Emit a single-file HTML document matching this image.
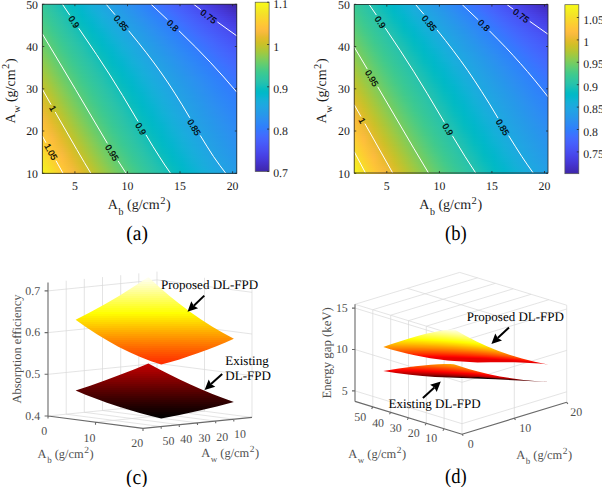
<!DOCTYPE html><html><head><meta charset="utf-8"><style>
body{margin:0;background:#fff;width:602px;height:487px;overflow:hidden;position:relative}
div i{position:absolute;left:0;width:100%;height:2px;display:block}
.sf{position:absolute}
svg{position:absolute;left:0;top:0}
text{font-family:"Liberation Serif",serif;fill:#1a1a1a;text-rendering:geometricPrecision}
.tk{font-size:11.8px}
.cl{font-family:"Liberation Sans",sans-serif;font-size:8.9px;text-anchor:middle;fill:#000;stroke:#000;stroke-width:0.2}
.al{font-size:14px}
.cap{font-size:21px;fill:#000}
.t3{font-size:11.9px;fill:#505050}
.an{font-size:13px;fill:#000}
.al3{font-size:12.4px;fill:#505050}
.yl3{fill:#505050}
</style></head><body>
<div style="position:absolute;left:42px;top:4px;width:195px;height:170px">
<i style="top:0px;background:linear-gradient(90deg,#35c79a 0px,#29c3aa 10px,#14bfb8 20px,#01bac5 30px,#08b5d0 40px,#17aeda 50px,#1ea7e1 60px,#249fe5 70px,#2796eb 80px,#2d8ef2 90px,#2e84f8 100px,#347afd 110px,#3f6fff 120px,#4564fd 130px,#4759f9 140px,#484ff2 150px,#4744e8 160px,#463adb 170px,#4331c8 180px,#4029b3 190px,#3e26a9 195px)"></i>
<i style="top:2px;background:linear-gradient(90deg,#36c898 0px,#2bc3a8 10px,#18bfb6 20px,#02bbc3 30px,#05b5cf 40px,#16afd9 50px,#1da8e0 60px,#23a0e5 70px,#2698ea 80px,#2c8ff0 90px,#2e86f7 100px,#327cfc 110px,#3c71ff 120px,#4466fd 130px,#475cfa 140px,#4851f4 150px,#4747eb 160px,#463cdf 170px,#4434ce 180px,#412cba 190px,#3f29b0 195px)"></i>
<i style="top:4px;background:linear-gradient(90deg,#38c896 0px,#2dc4a6 10px,#1bc0b4 20px,#04bbc1 30px,#03b6cd 40px,#14b0d7 50px,#1ca9df 60px,#22a2e4 70px,#2699e9 80px,#2b91ef 90px,#2d88f6 100px,#307efb 110px,#3a74ff 120px,#4369fe 130px,#465efb 140px,#4854f5 150px,#484aee 160px,#473fe3 170px,#4536d4 180px,#422fc0 190px,#402bb7 195px)"></i>
<i style="top:6px;background:linear-gradient(90deg,#3ac994 0px,#2ec4a4 10px,#1ec0b2 20px,#06bcbf 30px,#02b7cb 40px,#11b1d6 50px,#1baade 60px,#21a3e3 70px,#259be8 80px,#2a93ee 90px,#2d8af5 100px,#2f80fa 110px,#3876fe 120px,#416bfe 130px,#4661fc 140px,#4757f7 150px,#484df0 160px,#4742e6 170px,#4639d9 180px,#4331c6 190px,#412ebe 195px)"></i>
<i style="top:8px;background:linear-gradient(90deg,#3cc991 0px,#30c5a2 10px,#21c1b1 20px,#09bdbe 30px,#01b8ca 40px,#0fb2d4 50px,#1aacdd 60px,#20a4e3 70px,#259ce7 80px,#2994ed 90px,#2d8cf3 100px,#2f82f9 110px,#3578fd 120px,#406efe 130px,#4563fd 140px,#4759f8 150px,#484ff2 160px,#4745e9 170px,#463bdd 180px,#4433cd 190px,#4230c4 195px)"></i>
<i style="top:10px;background:linear-gradient(90deg,#3eca8f 0px,#31c6a0 10px,#23c1af 20px,#0cbdbc 30px,#00b8c8 40px,#0cb3d3 50px,#19addc 60px,#1fa5e2 70px,#249ee6 80px,#2896ec 90px,#2d8df2 100px,#2e84f8 110px,#337bfd 120px,#3e70ff 130px,#4466fd 140px,#475cfa 150px,#4852f4 160px,#4848ec 170px,#473ee1 180px,#4535d2 190px,#4332ca 195px)"></i>
<i style="top:12px;background:linear-gradient(90deg,#41ca8c 0px,#32c69e 10px,#26c2ad 20px,#10beba 30px,#00b9c6 40px,#0ab4d1 50px,#18aedb 60px,#1ea7e1 70px,#249fe5 80px,#2797ea 90px,#2c8ff1 100px,#2e86f7 110px,#317dfc 120px,#3b72ff 130px,#4368fe 140px,#465efb 150px,#4854f6 160px,#484bee 170px,#4741e5 180px,#4538d8 190px,#4434d0 195px)"></i>
<i style="top:14px;background:linear-gradient(90deg,#43cb8a 0px,#34c79c 10px,#28c2ab 20px,#13beb9 30px,#01bac5 40px,#07b5d0 50px,#16afd9 60px,#1da8e0 70px,#23a0e5 80px,#2699e9 90px,#2c91ef 100px,#2d88f6 110px,#307ffb 120px,#3974ff 130px,#426afe 140px,#4660fc 150px,#4757f7 160px,#484df0 170px,#4744e8 180px,#463adc 190px,#4537d5 195px)"></i>
<i style="top:16px;background:linear-gradient(90deg,#46cb88 0px,#35c79a 10px,#2ac3a9 20px,#16bfb7 30px,#02bbc3 40px,#05b6ce 50px,#14b0d8 60px,#1ca9df 70px,#22a2e4 80px,#269ae8 90px,#2b92ee 100px,#2d8af5 110px,#2f81fa 120px,#3777fe 130px,#406cfe 140px,#4563fc 150px,#4759f8 160px,#4850f2 170px,#4746ea 180px,#463de0 190px,#4639da 195px)"></i>
<i style="top:18px;background:linear-gradient(90deg,#49cb85 0px,#37c898 10px,#2bc3a8 20px,#19bfb5 30px,#03bbc1 40px,#03b6cd 50px,#12b1d7 60px,#1baade 70px,#21a3e3 80px,#259be7 90px,#2994ed 100px,#2d8bf4 110px,#2e83f9 120px,#3579fd 130px,#3f6fff 140px,#4465fd 150px,#475bfa 160px,#4852f4 170px,#4849ed 180px,#4740e3 190px,#463cde 195px)"></i>
<i style="top:20px;background:linear-gradient(90deg,#4ccc82 0px,#38c896 10px,#2dc4a6 20px,#1cc0b3 30px,#05bcc0 40px,#02b7cb 50px,#10b2d5 60px,#1aabdd 70px,#20a4e3 80px,#259de7 90px,#2895ec 100px,#2d8df2 110px,#2e84f8 120px,#337bfc 130px,#3d71ff 140px,#4367fd 150px,#465efb 160px,#4855f6 170px,#484bef 180px,#4742e7 190px,#473ee2 195px)"></i>
<i style="top:22px;background:linear-gradient(90deg,#50cc80 0px,#3ac993 10px,#2ec5a4 20px,#1fc0b2 30px,#08bcbe 40px,#01b8ca 50px,#0eb3d4 60px,#19acdc 70px,#1fa6e2 80px,#249ee6 90px,#2797eb 100px,#2d8ef1 110px,#2e86f7 120px,#317dfc 130px,#3b73ff 140px,#4269fe 150px,#4660fc 160px,#4757f7 170px,#484ef1 180px,#4745e9 190px,#4741e5 195px)"></i>
<i style="top:24px;background:linear-gradient(90deg,#53cc7d 0px,#3cc991 10px,#30c5a2 20px,#22c1b0 30px,#0bbdbc 40px,#00b9c8 50px,#0bb3d2 60px,#18addb 70px,#1ea7e1 80px,#249fe5 90px,#2698ea 100px,#2c90f0 110px,#2d88f6 120px,#307ffb 130px,#3875fe 140px,#416bfe 150px,#4562fc 160px,#4759f8 170px,#4850f3 180px,#4848ec 190px,#4744e8 195px)"></i>
<i style="top:26px;background:linear-gradient(90deg,#56cc7b 0px,#3eca8f 10px,#31c6a0 20px,#24c1ae 30px,#0fbebb 40px,#00b9c6 50px,#09b4d1 60px,#17aeda 70px,#1da8e1 80px,#23a1e5 90px,#2699e9 100px,#2b92ef 110px,#2d89f5 120px,#2f81fa 130px,#3677fe 140px,#3f6efe 150px,#4464fd 160px,#475bfa 170px,#4853f4 180px,#484aee 190px,#4746ea 195px)"></i>
<i style="top:28px;background:linear-gradient(90deg,#5acc78 0px,#41ca8c 10px,#32c69e 20px,#26c2ac 30px,#12beb9 40px,#01bac5 50px,#06b5cf 60px,#15afd9 70px,#1da9e0 80px,#22a2e4 90px,#259be8 100px,#2a93ee 110px,#2d8bf4 120px,#2e82f9 130px,#3479fd 140px,#3e70ff 150px,#4466fd 160px,#465dfb 170px,#4855f6 180px,#484cf0 190px,#4849ed 195px)"></i>
<i style="top:30px;background:linear-gradient(90deg,#5dcd75 0px,#43cb8a 10px,#34c79c 20px,#28c3ab 30px,#15bfb7 40px,#02bbc3 50px,#04b6ce 60px,#13b0d7 70px,#1caadf 80px,#21a3e3 90px,#259ce7 100px,#2994ed 110px,#2d8cf3 120px,#2e84f8 130px,#327bfc 140px,#3c72ff 150px,#4368fe 160px,#4660fb 170px,#4757f7 180px,#484ff2 190px,#484bef 195px)"></i>
<i style="top:32px;background:linear-gradient(90deg,#60cd72 0px,#46cb87 10px,#35c79a 20px,#2ac3a9 30px,#18bfb6 40px,#03bbc2 50px,#03b7cc 60px,#11b1d6 70px,#1babde 80px,#20a4e3 90px,#259de6 100px,#2896ec 110px,#2d8ef1 120px,#2e86f8 130px,#317dfc 140px,#3a74ff 150px,#426bfe 160px,#4562fc 170px,#4759f9 180px,#4851f3 190px,#484df1 195px)"></i>
<i style="top:34px;background:linear-gradient(90deg,#64cd6f 0px,#49cb85 10px,#37c898 20px,#2cc4a7 30px,#1bc0b4 40px,#05bcc0 50px,#01b7cb 60px,#0fb2d5 70px,#1aacdd 80px,#1fa5e2 90px,#249ee6 100px,#2797eb 110px,#2c8ff0 120px,#2d87f7 130px,#307ffb 140px,#3876fe 150px,#406dfe 160px,#4564fd 170px,#475bfa 180px,#4853f5 190px,#4850f2 195px)"></i>
<i style="top:36px;background:linear-gradient(90deg,#67cd6c 0px,#4dcc82 10px,#38c896 20px,#2dc4a5 30px,#1ec0b2 40px,#07bcbe 50px,#01b8c9 60px,#0db3d3 70px,#19addc 80px,#1ea6e1 90px,#249fe5 100px,#2698ea 110px,#2b91ef 120px,#2d89f5 130px,#2f81fa 140px,#3678fe 150px,#3f6eff 160px,#4466fd 170px,#465dfb 180px,#4855f6 190px,#4852f4 195px)"></i>
<i style="top:38px;background:linear-gradient(90deg,#6bcd69 0px,#50cc80 10px,#3ac993 20px,#2fc5a4 30px,#21c1b1 40px,#0abdbd 50px,#00b9c8 60px,#0bb4d2 70px,#17aeda 80px,#1ea8e1 90px,#23a1e5 100px,#269ae9 110px,#2b92ee 120px,#2d8af4 130px,#2f82f9 140px,#347afd 150px,#3d70ff 160px,#4368fe 170px,#465ffb 180px,#4757f7 190px,#4854f5 195px)"></i>
<i style="top:40px;background:linear-gradient(90deg,#6fcd66 0px,#53cc7d 10px,#3cc991 20px,#30c5a2 30px,#23c1af 40px,#0ebdbb 50px,#00b9c6 60px,#08b4d1 70px,#16afd9 80px,#1da9e0 90px,#22a2e4 100px,#259be8 110px,#2993ed 120px,#2d8cf3 130px,#2e84f9 140px,#327bfc 150px,#3b72ff 160px,#426afe 170px,#4561fc 180px,#4759f9 190px,#4756f7 195px)"></i>
<i style="top:42px;background:linear-gradient(90deg,#73cd63 0px,#56cc7a 10px,#3eca8f 20px,#31c6a0 30px,#25c2ad 40px,#11beba 50px,#01bac5 60px,#06b5cf 70px,#15b0d8 80px,#1caadf 90px,#21a3e3 100px,#259ce7 110px,#2995ec 120px,#2d8df2 130px,#2e85f8 140px,#317dfc 150px,#3974ff 160px,#416bfe 170px,#4563fd 180px,#475bfa 190px,#4758f8 195px)"></i>
<i style="top:44px;background:linear-gradient(90deg,#77cc60 0px,#5acc78 10px,#40ca8d 20px,#32c69e 30px,#27c2ac 40px,#14beb8 50px,#02bac3 60px,#04b6ce 70px,#13b1d7 80px,#1babde 90px,#20a4e3 100px,#259de6 110px,#2896eb 120px,#2c8ff1 130px,#2e87f7 140px,#307ffb 150px,#3876fe 160px,#406dfe 170px,#4465fd 180px,#465dfb 190px,#475af9 195px)"></i>
<i style="top:46px;background:linear-gradient(90deg,#7bcc5d 0px,#5dcd75 10px,#43cb8a 20px,#34c79c 30px,#29c3aa 40px,#17bfb7 50px,#03bbc2 60px,#03b7cc 70px,#11b1d6 80px,#1aacdd 90px,#20a5e2 100px,#249ee6 110px,#2797eb 120px,#2c90f0 130px,#2d88f6 140px,#2f80fa 150px,#3678fe 160px,#3e6fff 170px,#4367fd 180px,#465ffb 190px,#475cfa 195px)"></i>
<i style="top:48px;background:linear-gradient(90deg,#7fcc5a 0px,#60cd72 10px,#46cb88 20px,#35c79a 30px,#2bc3a8 40px,#1abfb5 50px,#05bcc0 60px,#01b7cb 70px,#0fb2d4 80px,#19acdc 90px,#1fa6e2 100px,#249fe5 110px,#2698ea 120px,#2b91ef 130px,#2d8af5 140px,#2f82fa 150px,#347afd 160px,#3d71ff 170px,#4369fe 180px,#4661fc 190px,#465efb 195px)"></i>
<i style="top:50px;background:linear-gradient(90deg,#83cc57 0px,#64cd6f 10px,#49cb85 20px,#37c898 30px,#2cc4a7 40px,#1cc0b3 50px,#07bcbf 60px,#01b8ca 70px,#0db3d3 80px,#18addb 90px,#1ea7e1 100px,#23a0e5 110px,#2699e9 120px,#2a92ee 130px,#2d8bf4 140px,#2e83f9 150px,#327bfc 160px,#3b73ff 170px,#426afe 180px,#4563fc 190px,#465ffb 195px)"></i>
<i style="top:52px;background:linear-gradient(90deg,#87cb54 0px,#67cd6c 10px,#4ccb83 20px,#38c896 30px,#2ec4a5 40px,#1fc0b2 50px,#09bdbd 60px,#00b8c8 70px,#0ab4d2 80px,#17aeda 90px,#1da8e0 100px,#22a1e4 110px,#259be8 120px,#2994ed 130px,#2d8cf3 140px,#2e85f8 150px,#317dfc 160px,#3974ff 170px,#416cfe 180px,#4464fd 190px,#4561fc 195px)"></i>
<i style="top:54px;background:linear-gradient(90deg,#8ccb51 0px,#6bcd69 10px,#4fcc80 20px,#3ac994 30px,#2fc5a3 40px,#22c1b0 50px,#0cbdbc 60px,#00b9c7 70px,#08b4d1 80px,#16afd9 90px,#1da9e0 100px,#22a2e4 110px,#259ce7 120px,#2995ec 130px,#2d8df2 140px,#2e86f7 150px,#307efb 160px,#3876fe 170px,#3f6eff 180px,#4466fd 190px,#4563fc 195px)"></i>
<i style="top:56px;background:linear-gradient(90deg,#90ca4d 0px,#6fcd66 10px,#52cc7e 20px,#3cc991 30px,#30c5a1 40px,#24c1af 50px,#0fbeba 60px,#01bac5 70px,#06b5cf 80px,#14b0d8 90px,#1caadf 100px,#21a3e3 110px,#259de7 120px,#2896ec 130px,#2c8ff1 140px,#2d87f7 150px,#2f80fb 160px,#3678fe 170px,#3e6fff 180px,#4368fe 190px,#4464fd 195px)"></i>
<i style="top:58px;background:linear-gradient(90deg,#94ca4a 0px,#73cd63 10px,#55cc7b 20px,#3eca8f 30px,#31c6a0 40px,#26c2ad 50px,#12beb9 60px,#01bac4 70px,#04b6ce 80px,#13b1d7 90px,#1babde 100px,#20a4e3 110px,#249ee6 120px,#2797eb 130px,#2c90f0 140px,#2d89f6 150px,#2f81fa 160px,#3479fd 170px,#3d71ff 180px,#4269fe 190px,#4466fd 195px)"></i>
<i style="top:60px;background:linear-gradient(90deg,#98ca47 0px,#77cc60 10px,#59cc79 20px,#40ca8d 30px,#32c69e 40px,#28c2ab 50px,#15bfb7 60px,#02bbc3 70px,#03b6cd 80px,#11b1d6 90px,#1aacdd 100px,#1fa5e2 110px,#249fe5 120px,#2698ea 130px,#2b91ef 140px,#2d8af5 150px,#2e82f9 160px,#337bfd 170px,#3b73ff 180px,#416bfe 190px,#4368fe 195px)"></i>
<i style="top:62px;background:linear-gradient(90deg,#9cc944 0px,#7bcc5d 10px,#5ccc76 20px,#43ca8b 30px,#34c79c 40px,#29c3aa 50px,#18bfb6 60px,#04bbc1 70px,#02b7cb 80px,#0fb2d5 90px,#19addc 100px,#1fa6e2 110px,#23a0e5 120px,#2699e9 130px,#2a92ee 140px,#2d8bf4 150px,#2e84f9 160px,#327cfc 170px,#3974ff 180px,#406dfe 190px,#4269fe 195px)"></i>
<i style="top:64px;background:linear-gradient(90deg,#a0c941 0px,#7fcc5a 10px,#5fcd73 20px,#45cb88 30px,#35c79a 40px,#2bc3a8 50px,#1bc0b4 60px,#06bcc0 70px,#01b8ca 80px,#0db3d3 90px,#18addb 100px,#1ea7e1 110px,#23a1e5 120px,#269ae8 130px,#2a93ed 140px,#2d8cf3 150px,#2e85f8 160px,#307efc 170px,#3876fe 180px,#3f6eff 190px,#416bfe 195px)"></i>
<i style="top:66px;background:linear-gradient(90deg,#a4c83e 0px,#83cc57 10px,#63cd70 20px,#48cb86 30px,#37c898 40px,#2cc4a6 50px,#1dc0b3 60px,#08bcbe 70px,#00b8c9 80px,#0bb3d2 90px,#17aeda 100px,#1da8e0 110px,#22a2e4 120px,#259be8 130px,#2994ed 140px,#2d8df2 150px,#2e86f7 160px,#307ffb 170px,#3677fe 180px,#3e70ff 190px,#406cfe 195px)"></i>
<i style="top:68px;background:linear-gradient(90deg,#a8c73b 0px,#87cb54 10px,#66cd6d 20px,#4bcb84 30px,#38c896 40px,#2ec4a5 50px,#20c1b1 60px,#0abdbd 70px,#00b9c7 80px,#09b4d1 90px,#16afd9 100px,#1da9e0 110px,#21a3e4 120px,#259ce7 130px,#2895ec 140px,#2d8ef1 150px,#2d87f7 160px,#2f80fa 170px,#3579fd 180px,#3d71ff 190px,#3f6eff 195px)"></i>
<i style="top:70px;background:linear-gradient(90deg,#acc738 0px,#8bcb51 10px,#69cd6a 20px,#4ecc81 30px,#3ac994 40px,#2fc5a3 50px,#22c1b0 60px,#0dbdbb 70px,#00b9c6 80px,#07b5d0 90px,#15b0d8 100px,#1caadf 110px,#21a3e3 120px,#259de6 130px,#2796eb 140px,#2c8ff0 150px,#2d89f6 160px,#2f81fa 170px,#347afd 180px,#3b72ff 190px,#3e6fff 195px)"></i>
<i style="top:72px;background:linear-gradient(90deg,#b0c636 0px,#8fcb4e 10px,#6dcd67 20px,#51cc7f 30px,#3bc992 40px,#30c5a1 50px,#24c1ae 60px,#10beba 70px,#01bac5 80px,#05b5cf 90px,#13b0d7 100px,#1babde 110px,#20a4e3 120px,#249ee6 130px,#2797ea 140px,#2c91ef 150px,#2d8af5 160px,#2e83f9 170px,#327bfc 180px,#3a74ff 190px,#3d71ff 195px)"></i>
<i style="top:74px;background:linear-gradient(90deg,#b4c533 0px,#93ca4b 10px,#71cd64 20px,#54cc7c 30px,#3dca90 40px,#31c6a0 50px,#26c2ad 60px,#13beb9 70px,#02bac3 80px,#04b6cd 90px,#12b1d6 100px,#1aabdd 110px,#1fa5e2 120px,#249fe5 130px,#2698ea 140px,#2b92ef 150px,#2d8bf4 160px,#2e84f9 170px,#317dfc 180px,#3875fe 190px,#3c72ff 195px)"></i>
<i style="top:76px;background:linear-gradient(90deg,#b8c431 0px,#97ca48 10px,#75cc61 20px,#58cc79 30px,#40ca8d 40px,#32c69e 50px,#28c2ab 60px,#16bfb7 70px,#03bbc2 80px,#02b7cc 90px,#10b2d5 100px,#1aacdd 110px,#1fa6e2 120px,#23a0e5 130px,#2699e9 140px,#2a93ee 150px,#2d8cf3 160px,#2e85f8 170px,#307efb 180px,#3777fe 190px,#3a73ff 195px)"></i>
<i style="top:78px;background:linear-gradient(90deg,#bcc42f 0px,#9bc944 10px,#79cc5e 20px,#5bcc77 30px,#42ca8b 40px,#34c79c 50px,#29c3aa 60px,#18bfb6 70px,#04bbc1 80px,#01b7cb 90px,#0eb2d4 100px,#19addc 110px,#1ea7e1 120px,#23a1e5 130px,#269ae8 140px,#2994ed 150px,#2d8df2 160px,#2e86f7 170px,#307ffb 180px,#3678fd 190px,#3975ff 195px)"></i>
<i style="top:80px;background:linear-gradient(90deg,#c0c32d 0px,#9fc941 10px,#7dcc5c 20px,#5ecd74 30px,#44cb89 40px,#35c79a 50px,#2bc3a8 60px,#1bc0b4 70px,#06bcbf 80px,#01b8ca 90px,#0cb3d3 100px,#18aedb 110px,#1da8e1 120px,#22a1e4 130px,#259be8 140px,#2994ed 150px,#2d8ef1 160px,#2e87f7 170px,#2f80fa 180px,#3479fd 190px,#3876fe 195px)"></i>
<i style="top:82px;background:linear-gradient(90deg,#c4c22b 0px,#a3c83f 10px,#81cc59 20px,#61cd71 30px,#47cb87 40px,#36c898 50px,#2cc4a7 60px,#1dc0b3 70px,#08bcbe 80px,#00b8c8 90px,#0ab4d2 100px,#17aeda 110px,#1da9e0 120px,#22a2e4 130px,#259ce7 140px,#2895ec 150px,#2c8ff1 160px,#2d88f6 170px,#2f81fa 180px,#337afd 190px,#3677fe 195px)"></i>
<i style="top:84px;background:linear-gradient(90deg,#c7c129 0px,#a7c73c 10px,#85cc56 20px,#64cd6e 30px,#4acb84 40px,#38c896 50px,#2ec4a5 60px,#20c1b1 70px,#0bbdbd 80px,#00b9c7 90px,#08b4d1 100px,#16afd9 110px,#1ca9df 120px,#21a3e3 130px,#259de7 140px,#2796eb 150px,#2c90f0 160px,#2d89f5 170px,#2f82f9 180px,#327cfc 190px,#3578fd 195px)"></i>
<i style="top:86px;background:linear-gradient(90deg,#cbc128 0px,#abc739 10px,#89cb53 20px,#68cd6b 30px,#4dcc82 40px,#39c994 50px,#2fc5a3 60px,#22c1b0 70px,#0dbdbb 80px,#00b9c6 90px,#07b5d0 100px,#14b0d8 110px,#1caadf 120px,#20a4e3 130px,#249ee6 140px,#2797eb 150px,#2c91ef 160px,#2d8af5 170px,#2e83f9 180px,#317dfc 190px,#347afd 195px)"></i>
<i style="top:88px;background:linear-gradient(90deg,#cfc027 0px,#afc637 10px,#8dcb50 20px,#6bcd69 30px,#50cc7f 40px,#3bc992 50px,#30c5a2 60px,#24c1af 70px,#10beba 80px,#01bac5 90px,#05b5ce 100px,#13b0d7 110px,#1babde 120px,#20a5e3 130px,#249ee6 140px,#2698ea 150px,#2b91ef 160px,#2d8bf4 170px,#2e84f8 180px,#307efb 190px,#337bfd 195px)"></i>
<i style="top:90px;background:linear-gradient(90deg,#d2bf27 0px,#b3c534 10px,#91ca4d 20px,#6fcd66 30px,#53cc7d 40px,#3dc990 50px,#31c6a0 60px,#26c2ad 70px,#13beb9 80px,#02bac4 90px,#04b6cd 100px,#12b1d6 110px,#1aacdd 120px,#1fa5e2 130px,#249fe5 140px,#2699e9 150px,#2a92ee 160px,#2d8cf3 170px,#2e85f8 180px,#307ffb 190px,#327cfc 195px)"></i>
<i style="top:92px;background:linear-gradient(90deg,#d6be27 0px,#b7c532 10px,#94ca49 20px,#73cd63 30px,#56cc7b 40px,#3fca8e 50px,#32c69e 60px,#27c2ac 70px,#15bfb7 80px,#03bbc2 90px,#02b7cc 100px,#10b2d5 110px,#1aacdc 120px,#1fa6e2 130px,#23a0e5 140px,#269ae9 150px,#2a93ed 160px,#2d8df2 170px,#2e86f7 180px,#2f80fb 190px,#317dfc 195px)"></i>
<i style="top:94px;background:linear-gradient(90deg,#d9bd28 0px,#bbc430 10px,#98c946 20px,#77cc60 30px,#59cc78 40px,#41ca8c 50px,#33c79d 60px,#29c3aa 70px,#18bfb6 80px,#04bbc1 90px,#02b7cb 100px,#0eb2d4 110px,#19addc 120px,#1ea7e1 130px,#23a1e4 140px,#259ae8 150px,#2994ed 160px,#2d8ef2 170px,#2e87f7 180px,#2f81fa 190px,#307efb 195px)"></i>
<i style="top:96px;background:linear-gradient(90deg,#ddbd29 0px,#bfc32d 10px,#9cc943 20px,#7bcc5d 30px,#5dcc75 40px,#44cb8a 50px,#35c79b 60px,#2ac3a9 70px,#1ac0b5 80px,#06bcc0 90px,#01b8ca 100px,#0db3d3 110px,#18aedb 120px,#1da8e1 130px,#22a2e4 140px,#259be8 150px,#2895ec 160px,#2c8ef1 170px,#2d88f6 180px,#2f82fa 190px,#307ffb 195px)"></i>
<i style="top:98px;background:linear-gradient(90deg,#e0bc2a 0px,#c2c22b 10px,#a0c840 20px,#7fcc5a 30px,#60cd73 40px,#46cb87 50px,#36c899 60px,#2cc4a7 70px,#1dc0b3 80px,#07bcbe 90px,#00b8c9 100px,#0bb4d2 110px,#17aeda 120px,#1da9e0 130px,#22a2e4 140px,#259ce7 150px,#2896ec 160px,#2c8ff0 170px,#2d89f5 180px,#2e83f9 190px,#2f80fb 195px)"></i>
<i style="top:100px;background:linear-gradient(90deg,#e4bb2c 0px,#c6c22a 10px,#a4c83e 20px,#82cc57 30px,#63cd70 40px,#49cb85 50px,#37c897 60px,#2dc4a6 70px,#1fc0b2 80px,#0abdbd 90px,#00b9c8 100px,#09b4d1 110px,#16afd9 120px,#1ca9df 130px,#21a3e3 140px,#259de7 150px,#2797eb 160px,#2c90f0 170px,#2d8af5 180px,#2e84f9 190px,#2f81fa 195px)"></i>
<i style="top:102px;background:linear-gradient(90deg,#e7bb2e 0px,#cac128 10px,#a8c73b 20px,#86cb54 30px,#66cd6d 40px,#4ccb83 50px,#39c895 60px,#2ec5a4 70px,#21c1b0 80px,#0cbdbc 90px,#00b9c6 100px,#07b5d0 110px,#15b0d8 120px,#1caadf 130px,#21a4e3 140px,#249ee6 150px,#2797ea 160px,#2b91ef 170px,#2d8bf4 180px,#2e84f8 190px,#2f82fa 195px)"></i>
<i style="top:104px;background:linear-gradient(90deg,#eaba30 0px,#cdc027 10px,#acc738 20px,#8acb51 30px,#6acd6a 40px,#4fcc81 50px,#3ac993 60px,#2fc5a2 70px,#23c1af 80px,#0fbebb 90px,#01bac5 100px,#06b5cf 110px,#14b0d7 120px,#1babde 130px,#20a5e3 140px,#249ee6 150px,#2698ea 160px,#2b92ee 170px,#2d8cf3 180px,#2e85f8 190px,#2e83f9 195px)"></i>
<i style="top:106px;background:linear-gradient(90deg,#edba33 0px,#d1bf27 10px,#b0c636 20px,#8ecb4e 30px,#6dcd67 40px,#52cc7e 50px,#3cc991 60px,#31c5a1 70px,#25c2ae 80px,#12beb9 90px,#01bac4 100px,#04b6ce 110px,#12b1d6 120px,#1aabdd 130px,#1fa5e2 140px,#249fe5 150px,#2699e9 160px,#2a93ee 170px,#2d8cf3 180px,#2e86f7 190px,#2e83f9 195px)"></i>
<i style="top:108px;background:linear-gradient(90deg,#f0ba36 0px,#d5be27 10px,#b4c533 20px,#92ca4b 30px,#71cd64 40px,#55cc7c 50px,#3eca8f 60px,#32c69f 70px,#27c2ac 80px,#14bfb8 90px,#02bbc3 100px,#03b6cd 110px,#11b2d5 120px,#1aacdd 130px,#1fa6e2 140px,#23a0e5 150px,#269ae9 160px,#2a93ed 170px,#2d8df2 180px,#2e87f7 190px,#2e84f8 195px)"></i>
<i style="top:110px;background:linear-gradient(90deg,#f3ba39 0px,#d8be28 10px,#b8c431 20px,#96ca48 30px,#75cc62 40px,#58cc79 50px,#40ca8d 60px,#33c69d 70px,#28c3ab 80px,#17bfb7 90px,#03bbc2 100px,#02b7cc 110px,#0fb2d5 120px,#19addc 130px,#1ea7e1 140px,#23a1e5 150px,#269ae8 160px,#2994ed 170px,#2d8ef1 180px,#2d88f6 190px,#2e85f8 195px)"></i>
<i style="top:112px;background:linear-gradient(90deg,#f6ba3c 0px,#dbbd29 10px,#bcc42f 20px,#9ac945 30px,#78cc5f 40px,#5bcc77 50px,#42ca8b 60px,#34c79b 70px,#2ac3a9 80px,#19bfb5 90px,#05bcc0 100px,#01b7ca 110px,#0db3d4 120px,#18addb 130px,#1ea8e1 140px,#22a1e4 150px,#259be8 160px,#2895ec 170px,#2c8ff1 180px,#2d89f6 190px,#2e86f7 195px)"></i>
<i style="top:114px;background:linear-gradient(90deg,#f9ba3d 0px,#dfbc29 10px,#bfc32d 20px,#9ec942 30px,#7ccc5c 40px,#5ecd74 50px,#45cb89 60px,#35c79a 70px,#2bc3a8 80px,#1cc0b4 90px,#06bcbf 100px,#01b8c9 110px,#0cb3d3 120px,#17aeda 130px,#1da8e0 140px,#22a2e4 150px,#259ce7 160px,#2896ec 170px,#2c90f0 180px,#2d89f5 190px,#2e87f7 195px)"></i>
<i style="top:116px;background:linear-gradient(90deg,#fbbb3e 0px,#e2bc2b 10px,#c3c22b 20px,#a2c840 30px,#80cc59 40px,#61cd71 50px,#48cb86 60px,#37c898 70px,#2dc4a6 80px,#1ec0b2 90px,#09bdbe 100px,#00b8c8 110px,#0ab4d2 120px,#16afda 130px,#1da9e0 140px,#21a3e4 150px,#259de7 160px,#2797eb 170px,#2c90ef 180px,#2d8af4 190px,#2d87f6 195px)"></i>
<i style="top:118px;background:linear-gradient(90deg,#fdbc3d 0px,#e5bb2d 10px,#c7c129 20px,#a6c83d 30px,#84cc56 40px,#64cd6e 50px,#4acb84 60px,#38c896 70px,#2ec4a5 80px,#20c1b1 90px,#0bbdbd 100px,#00b9c7 110px,#08b4d0 120px,#15afd9 130px,#1caadf 140px,#21a4e3 150px,#259de6 160px,#2797ea 170px,#2b91ef 180px,#2d8bf4 190px,#2d88f6 195px)"></i>
<i style="top:120px;background:linear-gradient(90deg,#febe3c 0px,#e9bb2f 10px,#cbc128 20px,#a9c73a 30px,#88cb53 40px,#68cd6c 50px,#4dcc82 60px,#39c994 70px,#2fc5a3 80px,#22c1b0 90px,#0ebdbb 100px,#00b9c6 110px,#06b5cf 120px,#14b0d8 130px,#1baade 140px,#20a4e3 150px,#249ee6 160px,#2698ea 170px,#2b92ee 180px,#2d8cf3 190px,#2d89f5 195px)"></i>
<i style="top:122px;background:linear-gradient(90deg,#fec03a 0px,#ecba31 10px,#cec027 20px,#adc638 30px,#8ccb50 40px,#6bcd69 50px,#50cc7f 60px,#3bc992 70px,#30c5a1 80px,#24c1ae 90px,#10beba 100px,#01bac5 110px,#05b6ce 120px,#13b1d7 130px,#1babde 140px,#20a5e2 150px,#249fe5 160px,#2699e9 170px,#2a93ee 180px,#2d8df2 190px,#2d8af5 195px)"></i>
<i style="top:124px;background:linear-gradient(90deg,#fec239 0px,#eeba34 10px,#d2bf27 20px,#b1c635 30px,#90ca4d 40px,#6fcd66 50px,#53cc7d 60px,#3dca90 70px,#31c6a0 80px,#26c2ad 90px,#13beb9 100px,#02bac3 110px,#04b6cd 120px,#12b1d6 130px,#1aacdd 140px,#1fa6e2 150px,#23a0e5 160px,#2699e9 170px,#2a93ed 180px,#2d8df2 190px,#2d8bf4 195px)"></i>
<i style="top:126px;background:linear-gradient(90deg,#fec437 0px,#f1ba37 10px,#d5be27 20px,#b5c533 30px,#93ca4a 40px,#72cd63 50px,#56cc7a 60px,#3fca8e 70px,#32c69e 80px,#28c2ab 90px,#15bfb7 100px,#03bbc2 110px,#02b7cc 120px,#10b2d5 130px,#19acdc 140px,#1fa6e2 150px,#23a0e5 160px,#269ae8 170px,#2994ed 180px,#2d8ef1 190px,#2d8bf3 195px)"></i>
<i style="top:128px;background:linear-gradient(90deg,#fec636 0px,#f4ba3a 10px,#d9be28 20px,#b9c431 30px,#97ca47 40px,#76cc60 50px,#59cc78 60px,#41ca8c 70px,#33c79c 80px,#29c3aa 90px,#18bfb6 100px,#04bbc1 110px,#02b7cb 120px,#0eb2d4 130px,#19addc 140px,#1ea7e1 150px,#23a1e4 160px,#259be8 170px,#2895ec 180px,#2c8ff1 190px,#2d8cf3 195px)"></i>
<i style="top:130px;background:linear-gradient(90deg,#fec934 0px,#f7ba3d 10px,#dcbd29 20px,#bdc42e 30px,#9bc944 40px,#7acc5d 50px,#5dcc75 60px,#44cb8a 70px,#35c79b 80px,#2bc3a8 90px,#1ac0b5 100px,#06bcc0 110px,#01b8ca 120px,#0db3d3 130px,#18aedb 140px,#1da8e1 150px,#22a2e4 160px,#259ce7 170px,#2896ec 180px,#2c90f0 190px,#2d8df2 195px)"></i>
<i style="top:132px;background:linear-gradient(90deg,#fecb33 0px,#fabb3e 10px,#dfbc2a 20px,#c0c32c 30px,#9fc941 40px,#7ecc5b 50px,#60cd73 60px,#46cb87 70px,#36c899 80px,#2cc4a7 90px,#1dc0b3 100px,#08bcbe 110px,#00b8c9 120px,#0bb4d2 130px,#17aeda 140px,#1da9e0 150px,#22a2e4 160px,#259ce7 170px,#2796eb 180px,#2c90ef 190px,#2d8ef2 195px)"></i>
<i style="top:134px;background:linear-gradient(90deg,#fdcd31 0px,#fcbc3e 10px,#e3bc2b 20px,#c4c22b 30px,#a3c83e 40px,#82cc58 50px,#63cd70 60px,#49cb85 70px,#37c897 80px,#2dc4a5 90px,#1fc0b2 100px,#0abdbd 110px,#00b9c8 120px,#09b4d1 130px,#16afd9 140px,#1ca9df 150px,#21a3e3 160px,#259de6 170px,#2797eb 180px,#2b91ef 190px,#2d8ef1 195px)"></i>
<i style="top:136px;background:linear-gradient(90deg,#fccf30 0px,#febd3d 10px,#e6bb2d 20px,#c8c129 30px,#a7c73c 40px,#86cb55 50px,#66cd6d 60px,#4ccb83 70px,#39c995 80px,#2fc5a4 90px,#21c1b0 100px,#0dbdbc 110px,#00b9c6 120px,#07b5d0 130px,#15b0d8 140px,#1caadf 150px,#20a4e3 160px,#249ee6 170px,#2698ea 180px,#2b92ee 190px,#2c8ff0 195px)"></i>
<i style="top:138px;background:linear-gradient(90deg,#fbd22f 0px,#febf3b 10px,#e9bb2f 20px,#cbc028 30px,#abc739 40px,#8acb52 50px,#6acd6a 60px,#4fcc80 70px,#3ac993 80px,#30c5a2 90px,#23c1af 100px,#0fbeba 110px,#01bac5 120px,#05b5cf 130px,#13b0d7 140px,#1babde 150px,#20a5e3 160px,#249fe6 170px,#2699e9 180px,#2a93ee 190px,#2c90f0 195px)"></i>
<i style="top:140px;background:linear-gradient(90deg,#fad42e 0px,#fec13a 10px,#ecba32 20px,#cfc027 30px,#afc637 40px,#8ecb4f 50px,#6dcd67 60px,#52cc7e 70px,#3cc991 80px,#31c6a0 90px,#25c2ad 100px,#12beb9 110px,#01bac4 120px,#04b6ce 130px,#12b1d6 140px,#1aabdd 150px,#1fa5e2 160px,#249fe5 170px,#2699e9 180px,#2993ed 190px,#2b91ef 195px)"></i>
<i style="top:142px;background:linear-gradient(90deg,#f9d72d 0px,#fec338 10px,#efba35 20px,#d2bf27 30px,#b3c534 40px,#91ca4c 50px,#71cd64 60px,#55cc7b 70px,#3eca8f 80px,#32c69f 90px,#27c2ac 100px,#15bfb8 110px,#02bbc3 120px,#03b6cd 130px,#11b2d5 140px,#1aacdd 150px,#1fa6e2 160px,#23a0e5 170px,#269ae8 180px,#2994ed 190px,#2b92ef 195px)"></i>
<i style="top:144px;background:linear-gradient(90deg,#f8d92b 0px,#fec537 10px,#f2ba38 20px,#d6be27 30px,#b6c532 40px,#95ca49 50px,#75cc61 60px,#58cc79 70px,#41ca8c 80px,#33c79d 90px,#29c3aa 100px,#17bfb6 110px,#04bbc1 120px,#02b7cb 130px,#0fb2d4 140px,#19addc 150px,#1ea7e1 160px,#23a1e4 170px,#259be8 180px,#2895ec 190px,#2a92ee 195px)"></i>
<i style="top:146px;background:linear-gradient(90deg,#f7db2a 0px,#fec735 10px,#f4ba3a 20px,#d9bd28 30px,#bac430 40px,#99c946 50px,#79cc5f 60px,#5ccc76 70px,#43cb8a 80px,#34c79b 90px,#2ac3a9 100px,#1abfb5 110px,#05bcc0 120px,#01b8ca 130px,#0db3d3 140px,#18aedb 150px,#1da8e1 160px,#22a2e4 170px,#259ce7 180px,#2896ec 190px,#2a93ed 195px)"></i>
<i style="top:148px;background:linear-gradient(90deg,#f6de29 0px,#fec934 10px,#f7ba3d 20px,#ddbd29 30px,#bec32e 40px,#9dc943 50px,#7ccc5c 60px,#5fcd73 70px,#46cb88 80px,#36c799 90px,#2cc4a7 100px,#1cc0b3 110px,#07bcbf 120px,#00b8c9 130px,#0bb3d2 140px,#17aeda 150px,#1da9e0 160px,#22a2e4 170px,#259ce7 180px,#2797eb 190px,#2994ed 195px)"></i>
<i style="top:150px;background:linear-gradient(90deg,#f6e028 0px,#fdcc32 10px,#fabb3e 20px,#e0bc2a 30px,#c2c22c 40px,#a1c840 50px,#80cc59 60px,#62cd71 70px,#49cb86 80px,#37c897 90px,#2dc4a6 100px,#1fc0b2 110px,#0abdbd 120px,#00b9c8 130px,#09b4d1 140px,#16afd9 150px,#1ca9df 160px,#21a3e3 170px,#259de6 180px,#2797ea 190px,#2895ec 195px)"></i>
<i style="top:152px;background:linear-gradient(90deg,#f5e327 0px,#fdce31 10px,#fcbc3e 20px,#e3bb2b 30px,#c6c22a 40px,#a5c83d 50px,#84cc56 60px,#65cd6e 70px,#4ccb83 80px,#39c895 90px,#2ec5a4 100px,#21c1b0 110px,#0dbdbc 120px,#00b9c6 130px,#07b5d0 140px,#15b0d8 150px,#1caadf 160px,#20a4e3 170px,#249ee6 180px,#2698ea 190px,#2896ec 195px)"></i>
<i style="top:154px;background:linear-gradient(90deg,#f5e526 0px,#fcd030 10px,#febd3d 20px,#e7bb2d 30px,#c9c128 40px,#a9c73a 50px,#88cb53 60px,#69cd6b 70px,#4fcc81 80px,#3ac993 90px,#30c5a2 100px,#23c1af 110px,#0fbeba 120px,#01bac5 130px,#05b5cf 140px,#13b0d7 150px,#1babde 160px,#20a5e2 170px,#249fe5 180px,#2699e9 190px,#2797eb 195px)"></i>
<i style="top:156px;background:linear-gradient(90deg,#f5e825 0px,#fbd32f 10px,#febf3b 20px,#eaba30 30px,#cdc028 40px,#adc638 50px,#8ccb50 60px,#6ccd68 70px,#52cc7e 80px,#3cc991 90px,#31c6a0 100px,#25c2ad 110px,#12beb9 120px,#01bac4 130px,#04b6cd 140px,#12b1d6 150px,#1aacdd 160px,#1fa6e2 170px,#23a0e5 180px,#269ae9 190px,#2797ea 195px)"></i>
<i style="top:158px;background:linear-gradient(90deg,#f5ea24 0px,#fad52d 10px,#fec13a 20px,#edba32 30px,#d0bf27 40px,#b1c635 50px,#90ca4d 60px,#70cd65 70px,#55cc7c 80px,#3eca8f 90px,#32c69e 100px,#27c2ac 110px,#15bfb7 120px,#02bbc2 130px,#02b7cc 140px,#10b2d5 150px,#19acdc 160px,#1ea7e1 170px,#23a1e5 180px,#259be8 190px,#2698ea 195px)"></i>
<i style="top:160px;background:linear-gradient(90deg,#f5ec22 0px,#f9d72c 10px,#fec338 20px,#efba35 30px,#d4bf27 40px,#b5c533 50px,#94ca4a 60px,#74cd62 70px,#58cc79 80px,#41ca8c 90px,#33c79d 100px,#29c3aa 110px,#18bfb6 120px,#04bbc1 130px,#01b7cb 140px,#0eb2d4 150px,#19addb 160px,#1ea7e1 170px,#22a1e4 180px,#259ce7 190px,#2699e9 195px)"></i>
<i style="top:162px;background:linear-gradient(90deg,#f5ef20 0px,#f8da2b 10px,#fec537 20px,#f2ba38 30px,#d7be28 40px,#b9c431 50px,#98ca46 60px,#78cc5f 70px,#5ccc76 80px,#43cb8a 90px,#35c79b 100px,#2bc3a8 110px,#1bc0b4 120px,#06bcbf 130px,#01b8ca 140px,#0cb3d3 150px,#17aedb 160px,#1da8e0 170px,#22a2e4 180px,#259ce7 190px,#269ae9 195px)"></i>
<i style="top:164px;background:linear-gradient(90deg,#f6f11f 0px,#f7dc2a 10px,#fec735 20px,#f5ba3b 30px,#dbbd28 40px,#bdc42e 50px,#9cc943 60px,#7ccc5c 70px,#5fcd73 80px,#46cb87 90px,#36c899 100px,#2cc4a7 110px,#1dc0b3 120px,#08bcbe 130px,#00b8c8 140px,#0ab4d2 150px,#16afda 160px,#1ca9e0 170px,#21a3e3 180px,#259de6 190px,#259be8 195px)"></i>
<i style="top:166px;background:linear-gradient(90deg,#f7f41c 0px,#f6df29 10px,#fec934 20px,#f8ba3d 30px,#debc29 40px,#c1c32c 50px,#a0c840 60px,#80cc59 70px,#62cd70 80px,#49cb85 90px,#38c896 100px,#2ec4a5 110px,#20c1b1 120px,#0bbdbc 130px,#00b9c7 140px,#08b5d0 150px,#15b0d8 160px,#1caadf 170px,#20a4e3 180px,#249ee6 190px,#259ce7 195px)"></i>
<i style="top:168px;background:linear-gradient(90deg,#f7f61a 0px,#f5e128 10px,#fdcc32 20px,#fbbb3e 30px,#e2bc2b 40px,#c4c22a 50px,#a5c83d 60px,#84cc56 70px,#66cd6d 80px,#4ccc82 90px,#39c994 100px,#2fc5a3 110px,#23c1af 120px,#0ebebb 130px,#01bac5 140px,#06b5cf 150px,#13b0d7 160px,#1babde 170px,#20a5e2 180px,#249fe5 190px,#259de7 195px)"></i>
</div>
<div style="position:absolute;left:354px;top:4px;width:194px;height:169px">
<i style="top:0px;background:linear-gradient(90deg,#38c896 0px,#2dc4a5 10px,#1dc0b3 20px,#06bcc0 30px,#02b7cc 40px,#12b1d6 50px,#1caadf 60px,#22a2e4 70px,#269ae9 80px,#2b91ef 90px,#2d87f6 100px,#317dfc 110px,#3c72ff 120px,#4467fd 130px,#475cfa 140px,#4852f4 150px,#4747eb 160px,#463de0 170px,#4434d0 180px,#412dbd 190px,#402bb7 194px)"></i>
<i style="top:2px;background:linear-gradient(90deg,#3ac993 0px,#2fc5a3 10px,#20c1b1 20px,#08bdbe 30px,#01b8ca 40px,#0fb2d5 50px,#1aabdd 60px,#21a4e3 70px,#259be7 80px,#2a93ee 90px,#2d89f5 100px,#2f80fb 110px,#3974ff 120px,#4269fe 130px,#465ffb 140px,#4854f6 150px,#484aee 160px,#4740e4 170px,#4537d5 180px,#4230c3 190px,#412dbd 194px)"></i>
<i style="top:4px;background:linear-gradient(90deg,#3cc991 0px,#30c5a1 10px,#23c1af 20px,#0cbdbc 30px,#00b9c8 40px,#0cb3d3 50px,#19addc 60px,#20a5e2 70px,#259de6 80px,#2995ed 90px,#2d8bf3 100px,#2f82fa 110px,#3777fe 120px,#416cfe 130px,#4561fc 140px,#4757f7 150px,#484df0 160px,#4743e7 170px,#4639da 180px,#4332ca 190px,#4230c3 194px)"></i>
<i style="top:6px;background:linear-gradient(90deg,#3eca8f 0px,#32c69f 10px,#25c2ad 20px,#10beba 30px,#00b9c6 40px,#09b4d1 50px,#18aedb 60px,#1ea6e1 70px,#249ee6 80px,#2796eb 90px,#2d8df2 100px,#2e84f9 110px,#3479fd 120px,#3f6eff 130px,#4564fd 140px,#4759f9 150px,#484ff2 160px,#4745ea 170px,#463cdf 180px,#4434d0 190px,#4332ca 194px)"></i>
<i style="top:8px;background:linear-gradient(90deg,#41ca8c 0px,#33c69d 10px,#27c2ac 20px,#13beb8 30px,#01bac5 40px,#07b5d0 50px,#16afd9 60px,#1da8e1 70px,#23a0e5 80px,#2798ea 90px,#2c8ff0 100px,#2e86f8 110px,#327cfc 120px,#3d71ff 130px,#4466fd 140px,#475cfa 150px,#4852f4 160px,#4848ec 170px,#473fe2 180px,#4537d5 190px,#4434cf 194px)"></i>
<i style="top:10px;background:linear-gradient(90deg,#43cb8a 0px,#34c79b 10px,#29c3aa 20px,#17bfb7 30px,#02bbc3 40px,#04b6ce 50px,#14b0d8 60px,#1ca9e0 70px,#22a1e4 80px,#2699e9 90px,#2b91ef 100px,#2d88f6 110px,#307efb 120px,#3a73ff 130px,#4369fe 140px,#465efb 150px,#4855f6 160px,#484bef 170px,#4742e6 180px,#4639da 190px,#4536d5 194px)"></i>
<i style="top:12px;background:linear-gradient(90deg,#46cb87 0px,#36c899 10px,#2bc3a8 20px,#1abfb5 30px,#04bbc1 40px,#03b7cc 50px,#12b1d6 60px,#1baade 70px,#21a3e4 80px,#259be8 90px,#2a92ee 100px,#2d8af5 110px,#2f80fa 120px,#3876fe 130px,#416bfe 140px,#4661fc 150px,#4757f7 160px,#484ef1 170px,#4744e9 180px,#463cde 190px,#4639da 194px)"></i>
<i style="top:14px;background:linear-gradient(90deg,#49cb85 0px,#37c897 10px,#2dc4a6 20px,#1dc0b3 30px,#06bcbf 40px,#01b7cb 50px,#10b2d5 60px,#1aabdd 70px,#20a4e3 80px,#259ce7 90px,#2994ed 100px,#2d8bf4 110px,#2f82fa 120px,#3678fd 130px,#406dfe 140px,#4563fd 150px,#4759f9 160px,#4850f3 170px,#4747eb 180px,#473ee2 190px,#463bde 194px)"></i>
<i style="top:16px;background:linear-gradient(90deg,#4ccc82 0px,#39c994 10px,#2ec4a4 20px,#20c1b1 30px,#09bdbe 40px,#01b8c9 50px,#0db3d3 60px,#19addc 70px,#1fa5e2 80px,#249ee6 90px,#2896ec 100px,#2d8df2 110px,#2e84f9 120px,#337afd 130px,#3e70ff 140px,#4465fd 150px,#475cfa 160px,#4853f4 170px,#484aee 180px,#4741e5 190px,#473ee1 194px)"></i>
<i style="top:18px;background:linear-gradient(90deg,#50cc80 0px,#3bc992 10px,#30c5a2 20px,#22c1b0 30px,#0cbdbc 40px,#00b9c7 50px,#0ab4d2 60px,#18aedb 70px,#1ea7e1 80px,#249fe5 90px,#2797eb 100px,#2c8ff1 110px,#2e86f8 120px,#317cfc 130px,#3c72ff 140px,#4368fe 150px,#465efb 160px,#4855f6 170px,#484cf0 180px,#4743e8 190px,#4741e5 194px)"></i>
<i style="top:20px;background:linear-gradient(90deg,#53cc7d 0px,#3dca90 10px,#31c6a0 20px,#25c2ae 30px,#10beba 40px,#00bac6 50px,#08b5d0 60px,#16afda 70px,#1da8e0 80px,#23a0e5 90px,#2699e9 100px,#2c90ef 110px,#2d88f6 120px,#307efb 130px,#3a74ff 140px,#426afe 150px,#4660fc 160px,#4757f7 170px,#484ff2 180px,#4746ea 190px,#4743e7 194px)"></i>
<i style="top:22px;background:linear-gradient(90deg,#56cc7b 0px,#3fca8e 10px,#32c69e 20px,#27c2ac 30px,#13beb9 40px,#01bac4 50px,#05b5cf 60px,#15b0d8 70px,#1ca9e0 80px,#22a2e4 90px,#269ae8 100px,#2b92ee 110px,#2d89f5 120px,#2f80fa 130px,#3776fe 140px,#406cfe 150px,#4563fc 160px,#475af9 170px,#4851f3 180px,#4849ed 190px,#4746ea 194px)"></i>
<i style="top:24px;background:linear-gradient(90deg,#59cc78 0px,#42ca8b 10px,#33c79c 20px,#29c3aa 30px,#16bfb7 40px,#02bbc2 50px,#03b6cd 60px,#13b1d7 70px,#1baadf 80px,#21a3e3 90px,#259be7 100px,#2993ed 110px,#2d8bf4 120px,#2f82f9 130px,#3579fd 140px,#3f6eff 150px,#4465fd 160px,#475cfa 170px,#4853f5 180px,#484bef 190px,#4848ec 194px)"></i>
<i style="top:26px;background:linear-gradient(90deg,#5dcc75 0px,#44cb89 10px,#35c79a 20px,#2ac3a9 30px,#19bfb5 40px,#04bbc1 50px,#02b7cc 60px,#11b2d5 70px,#1aabdd 80px,#20a4e3 90px,#259de7 100px,#2895ec 110px,#2d8df2 120px,#2e84f9 130px,#337bfd 140px,#3d71ff 150px,#4367fd 160px,#465efb 170px,#4855f6 180px,#484df1 190px,#484bee 194px)"></i>
<i style="top:28px;background:linear-gradient(90deg,#60cd72 0px,#47cb87 10px,#36c898 20px,#2cc4a7 30px,#1cc0b4 40px,#06bcbf 50px,#01b8ca 60px,#0eb2d4 70px,#19acdc 80px,#1fa6e2 90px,#249ee6 100px,#2796eb 110px,#2d8ef1 120px,#2e86f8 130px,#317dfc 140px,#3b73ff 150px,#4269fe 160px,#4660fc 170px,#4758f8 180px,#4850f2 190px,#484df0 194px)"></i>
<i style="top:30px;background:linear-gradient(90deg,#63cd70 0px,#4acb84 10px,#38c896 20px,#2dc4a5 30px,#1fc0b2 40px,#09bdbe 50px,#00b8c9 60px,#0cb3d3 70px,#18addb 80px,#1ea7e1 90px,#249fe5 100px,#2798ea 110px,#2c90f0 120px,#2d87f7 130px,#307efb 140px,#3975fe 150px,#416bfe 160px,#4562fc 170px,#475af9 180px,#4852f4 190px,#484ff2 194px)"></i>
<i style="top:32px;background:linear-gradient(90deg,#66cd6d 0px,#4dcc82 10px,#39c994 20px,#2fc5a3 30px,#21c1b0 40px,#0cbdbc 50px,#00b9c7 60px,#09b4d1 70px,#17aeda 80px,#1da8e1 90px,#23a1e5 100px,#2699e9 110px,#2b91ef 120px,#2d89f5 130px,#2f80fa 140px,#3777fe 150px,#406dfe 160px,#4564fd 170px,#475cfa 180px,#4854f5 190px,#4851f4 194px)"></i>
<i style="top:34px;background:linear-gradient(90deg,#6acd6a 0px,#50cc7f 10px,#3bc992 20px,#30c5a2 30px,#24c1af 40px,#0fbeba 50px,#01bac5 60px,#07b5d0 70px,#15afd9 80px,#1da9e0 90px,#22a2e4 100px,#269ae8 110px,#2a93ee 120px,#2d8af4 130px,#2f82fa 140px,#3579fd 150px,#3e6fff 160px,#4466fd 170px,#465efb 180px,#4756f7 190px,#4853f5 194px)"></i>
<i style="top:36px;background:linear-gradient(90deg,#6ecd67 0px,#54cc7d 10px,#3dca90 20px,#31c6a0 30px,#26c2ad 40px,#12beb9 50px,#01bac4 60px,#05b6ce 70px,#14b0d7 80px,#1caadf 90px,#21a3e3 100px,#259ce7 110px,#2994ed 120px,#2d8cf3 130px,#2e84f9 140px,#337bfd 150px,#3c71ff 160px,#4368fe 170px,#4660fc 180px,#4758f8 190px,#4855f6 194px)"></i>
<i style="top:38px;background:linear-gradient(90deg,#71cd64 0px,#57cc7a 10px,#3fca8e 20px,#32c69e 30px,#28c2ab 40px,#15bfb7 50px,#02bbc2 60px,#03b6cd 70px,#12b1d6 80px,#1babde 90px,#20a4e3 100px,#259de7 110px,#2895ec 120px,#2d8df2 130px,#2e85f8 140px,#317dfc 150px,#3b73ff 160px,#426afe 170px,#4562fc 180px,#475af9 190px,#4757f7 194px)"></i>
<i style="top:40px;background:linear-gradient(90deg,#75cc61 0px,#5acc78 10px,#42ca8b 20px,#34c79c 30px,#29c3aa 40px,#18bfb6 50px,#04bbc1 60px,#02b7cb 70px,#10b2d5 80px,#1aacdd 90px,#1fa5e2 100px,#249ee6 110px,#2797eb 120px,#2c8ff1 130px,#2e87f7 140px,#307efb 150px,#3975fe 160px,#416cfe 170px,#4564fd 180px,#475cfa 190px,#4759f9 194px)"></i>
<i style="top:42px;background:linear-gradient(90deg,#79cc5e 0px,#5dcd75 10px,#44cb89 20px,#35c79a 30px,#2bc3a8 40px,#1bc0b4 50px,#06bcbf 60px,#01b8ca 70px,#0eb3d4 80px,#19addc 90px,#1fa6e2 100px,#249fe5 110px,#2698ea 120px,#2c90ef 130px,#2d88f6 140px,#2f80fb 150px,#3777fe 160px,#3f6eff 170px,#4465fd 180px,#465efb 190px,#475bfa 194px)"></i>
<i style="top:44px;background:linear-gradient(90deg,#7dcc5b 0px,#60cd72 10px,#47cb87 20px,#36c898 30px,#2cc4a6 40px,#1ec0b3 50px,#08bcbe 60px,#00b8c9 70px,#0bb3d2 80px,#18aedb 90px,#1ea7e1 100px,#23a0e5 110px,#2699e9 120px,#2b92ef 130px,#2d8af5 140px,#2f81fa 150px,#3579fd 160px,#3e70ff 170px,#4367fd 180px,#465ffb 190px,#475dfa 194px)"></i>
<i style="top:46px;background:linear-gradient(90deg,#81cc59 0px,#63cd6f 10px,#4acb85 20px,#38c896 30px,#2ec4a5 40px,#20c1b1 50px,#0bbdbc 60px,#00b9c7 70px,#09b4d1 80px,#16afda 90px,#1da8e0 100px,#22a1e4 110px,#269ae8 120px,#2a93ee 130px,#2d8bf4 140px,#2e83f9 150px,#337bfd 160px,#3c71ff 170px,#4269fe 180px,#4561fc 190px,#465ffb 194px)"></i>
<i style="top:48px;background:linear-gradient(90deg,#85cb56 0px,#67cd6d 10px,#4dcc82 20px,#39c994 30px,#2fc5a3 40px,#23c1af 50px,#0ebebb 60px,#00bac6 70px,#07b5d0 80px,#15b0d8 90px,#1ca9df 100px,#21a3e4 110px,#259ce7 120px,#2994ed 130px,#2d8cf3 140px,#2e84f8 150px,#327cfc 160px,#3a73ff 170px,#416bfe 180px,#4563fd 190px,#4660fc 194px)"></i>
<i style="top:50px;background:linear-gradient(90deg,#89cb53 0px,#6acd6a 10px,#50cc80 20px,#3bc992 30px,#30c5a1 40px,#25c2ae 50px,#11beb9 60px,#01bac4 70px,#05b6ce 80px,#13b0d7 90px,#1baade 100px,#21a4e3 110px,#259de7 120px,#2895ec 130px,#2d8ef1 140px,#2e86f7 150px,#307efb 160px,#3975fe 170px,#406dfe 180px,#4465fd 190px,#4562fc 194px)"></i>
<i style="top:52px;background:linear-gradient(90deg,#8dcb50 0px,#6ecd67 10px,#53cc7d 20px,#3dca90 30px,#31c69f 40px,#27c2ac 50px,#14bfb8 60px,#02bbc3 70px,#03b6cd 80px,#12b1d6 90px,#1babde 100px,#20a5e3 110px,#249ee6 120px,#2797eb 130px,#2c8ff0 140px,#2d87f7 150px,#2f7ffb 160px,#3777fe 170px,#3f6eff 180px,#4466fd 190px,#4564fd 194px)"></i>
<i style="top:54px;background:linear-gradient(90deg,#90ca4d 0px,#71cd64 10px,#56cc7b 20px,#3fca8e 30px,#32c69e 40px,#28c2ab 50px,#17bfb7 60px,#03bbc1 70px,#02b7cc 80px,#10b2d5 90px,#1aacdd 100px,#1fa6e2 110px,#249fe5 120px,#2798ea 130px,#2c90ef 140px,#2d89f6 150px,#2f81fa 160px,#3578fd 170px,#3e70ff 180px,#4368fe 190px,#4465fd 194px)"></i>
<i style="top:56px;background:linear-gradient(90deg,#94ca4a 0px,#75cc61 10px,#59cc78 20px,#41ca8c 30px,#34c79c 40px,#2ac3a9 50px,#1abfb5 60px,#05bcc0 70px,#01b8ca 80px,#0eb3d4 90px,#19addc 100px,#1ea7e1 110px,#23a0e5 120px,#2699e9 130px,#2b92ef 140px,#2d8af5 150px,#2f82f9 160px,#347afd 170px,#3c71ff 180px,#426afe 190px,#4367fd 194px)"></i>
<i style="top:58px;background:linear-gradient(90deg,#98ca47 0px,#79cc5e 10px,#5ccc76 20px,#44cb8a 30px,#35c79a 40px,#2bc3a8 50px,#1cc0b4 60px,#07bcbf 70px,#00b8c9 80px,#0bb3d2 90px,#18aedb 100px,#1ea8e1 110px,#23a1e4 120px,#269ae8 130px,#2a93ee 140px,#2d8bf4 150px,#2e84f9 160px,#327cfc 170px,#3a73ff 180px,#416bfe 190px,#4369fe 194px)"></i>
<i style="top:60px;background:linear-gradient(90deg,#9cc944 0px,#7dcc5c 10px,#5fcd73 20px,#46cb87 30px,#36c898 40px,#2dc4a6 50px,#1fc0b2 60px,#0abdbd 70px,#00b9c8 80px,#09b4d1 90px,#16afda 100px,#1da9e0 110px,#22a2e4 120px,#259be8 130px,#2994ed 140px,#2d8cf3 150px,#2e85f8 160px,#317dfc 170px,#3975fe 180px,#406dfe 190px,#426afe 194px)"></i>
<i style="top:62px;background:linear-gradient(90deg,#a0c941 0px,#81cc59 10px,#62cd70 20px,#49cb85 30px,#38c896 40px,#2ec4a4 50px,#21c1b1 60px,#0dbdbc 70px,#00b9c6 80px,#07b5d0 90px,#15afd8 100px,#1ca9df 110px,#21a3e3 120px,#259ce7 130px,#2895ec 140px,#2d8ef2 150px,#2e86f7 160px,#307efb 170px,#3776fe 180px,#3f6eff 190px,#416cfe 194px)"></i>
<i style="top:64px;background:linear-gradient(90deg,#a4c83e 0px,#84cc56 10px,#65cd6e 20px,#4ccb83 30px,#39c994 40px,#2fc5a3 50px,#23c1af 60px,#0fbeba 70px,#01bac5 80px,#05b5cf 90px,#14b0d7 100px,#1baade 110px,#21a4e3 120px,#259de6 130px,#2896eb 140px,#2c8ff1 150px,#2d87f7 160px,#2f80fb 170px,#3678fe 180px,#3e70ff 190px,#406dfe 194px)"></i>
<i style="top:66px;background:linear-gradient(90deg,#a8c73b 0px,#88cb53 10px,#69cd6b 20px,#4fcc80 30px,#3bc992 40px,#30c5a1 50px,#25c2ae 60px,#12beb9 70px,#01bac4 80px,#04b6cd 90px,#12b1d6 100px,#1babde 110px,#20a5e2 120px,#249ee6 130px,#2797eb 140px,#2c90f0 150px,#2d89f6 160px,#2f81fa 170px,#3479fd 180px,#3c71ff 190px,#3f6fff 194px)"></i>
<i style="top:68px;background:linear-gradient(90deg,#acc739 0px,#8ccb50 10px,#6ccd68 20px,#52cc7e 30px,#3dc990 40px,#31c69f 50px,#27c2ac 60px,#15bfb8 70px,#02bbc2 80px,#02b7cc 90px,#10b2d5 100px,#1aacdd 110px,#1fa6e2 120px,#249fe5 130px,#2698ea 140px,#2b91ef 150px,#2d8af5 160px,#2f82f9 170px,#337bfd 180px,#3b73ff 190px,#3d70ff 194px)"></i>
<i style="top:70px;background:linear-gradient(90deg,#afc636 0px,#90ca4d 10px,#70cd65 20px,#55cc7c 30px,#3fca8e 40px,#32c69e 50px,#28c3ab 60px,#17bfb6 70px,#04bbc1 80px,#02b7cb 90px,#0eb2d4 100px,#19addc 110px,#1ea7e1 120px,#23a0e5 130px,#2699e9 140px,#2b92ee 150px,#2d8bf4 160px,#2e84f9 170px,#327cfc 180px,#3974ff 190px,#3c72ff 194px)"></i>
<i style="top:72px;background:linear-gradient(90deg,#b3c534 0px,#94ca4a 10px,#73cd62 20px,#58cc79 30px,#41ca8c 40px,#34c79c 50px,#2ac3a9 60px,#1abfb5 70px,#06bcc0 80px,#01b8ca 90px,#0cb3d3 100px,#18aedb 110px,#1ea7e1 120px,#23a1e4 130px,#269ae8 140px,#2a93ed 150px,#2d8cf3 160px,#2e85f8 170px,#317dfc 180px,#3876fe 190px,#3b73ff 194px)"></i>
<i style="top:74px;background:linear-gradient(90deg,#b7c532 0px,#98ca47 10px,#77cc60 20px,#5bcc77 30px,#43cb8a 40px,#35c79a 50px,#2bc3a8 60px,#1cc0b3 70px,#08bcbe 80px,#00b8c8 90px,#0ab4d2 100px,#17aeda 110px,#1da8e0 120px,#22a2e4 130px,#259be8 140px,#2994ed 150px,#2d8df2 160px,#2e86f7 170px,#307ffb 180px,#3777fe 190px,#3974ff 194px)"></i>
<i style="top:76px;background:linear-gradient(90deg,#bbc430 0px,#9bc944 10px,#7bcc5d 20px,#5ecd74 30px,#46cb88 40px,#36c898 50px,#2dc4a6 60px,#1fc0b2 70px,#0abdbd 80px,#00b9c7 90px,#08b4d1 100px,#16afd9 110px,#1ca9df 120px,#21a3e4 130px,#259ce7 140px,#2895ec 150px,#2d8ef1 160px,#2e87f7 170px,#2f80fb 180px,#3578fd 190px,#3876fe 194px)"></i>
<i style="top:78px;background:linear-gradient(90deg,#bfc32d 0px,#9fc941 10px,#7fcc5a 20px,#61cd71 30px,#48cb86 40px,#37c897 50px,#2ec4a5 60px,#21c1b1 70px,#0dbdbc 80px,#00b9c6 90px,#07b5d0 100px,#14b0d8 110px,#1caadf 120px,#21a4e3 130px,#259de6 140px,#2796eb 150px,#2c8ff0 160px,#2d88f6 170px,#2f81fa 180px,#347afd 190px,#3777fe 194px)"></i>
<i style="top:80px;background:linear-gradient(90deg,#c2c22b 0px,#a3c83e 10px,#83cc57 20px,#64cd6f 30px,#4bcb83 40px,#39c995 50px,#2fc5a3 60px,#23c1af 70px,#10beba 80px,#01bac5 90px,#05b6ce 100px,#13b1d7 110px,#1babde 120px,#20a4e3 130px,#249ee6 140px,#2797eb 150px,#2c90f0 160px,#2d89f5 170px,#2f82fa 180px,#337bfc 190px,#3578fd 194px)"></i>
<i style="top:82px;background:linear-gradient(90deg,#c6c22a 0px,#a7c73c 10px,#86cb55 20px,#67cd6c 30px,#4ecc81 40px,#3ac993 50px,#30c5a1 60px,#25c2ae 70px,#12beb9 80px,#02bac3 90px,#03b6cd 100px,#11b1d6 110px,#1aacdd 120px,#1fa5e2 130px,#249fe5 140px,#2698ea 150px,#2b91ef 160px,#2d8af4 170px,#2e83f9 180px,#327cfc 190px,#347afd 194px)"></i>
<i style="top:84px;background:linear-gradient(90deg,#cac128 0px,#abc739 10px,#8acb52 20px,#6bcd69 30px,#51cc7f 40px,#3cc991 50px,#31c6a0 60px,#27c2ac 70px,#15bfb8 80px,#03bbc2 90px,#02b7cc 100px,#10b2d5 110px,#19acdc 120px,#1fa6e2 130px,#23a0e5 140px,#2699e9 150px,#2a92ee 160px,#2d8bf4 170px,#2e84f8 180px,#317dfc 190px,#337bfd 194px)"></i>
<i style="top:86px;background:linear-gradient(90deg,#cdc027 0px,#afc637 10px,#8ecb4f 20px,#6ecd66 30px,#54cc7d 40px,#3eca8f 50px,#32c69e 60px,#28c2ab 70px,#17bfb6 80px,#04bbc1 90px,#01b7cb 100px,#0eb2d4 110px,#19addc 120px,#1ea7e1 130px,#23a0e5 140px,#269ae9 150px,#2a93ed 160px,#2d8cf3 170px,#2e85f8 180px,#307efb 190px,#327cfc 194px)"></i>
<i style="top:88px;background:linear-gradient(90deg,#d1bf27 0px,#b2c534 10px,#92ca4c 20px,#72cd64 30px,#57cc7a 40px,#40ca8d 50px,#33c79c 60px,#2ac3a9 70px,#1abfb5 80px,#06bcc0 90px,#01b8ca 100px,#0cb3d3 110px,#18aedb 120px,#1da8e1 130px,#22a1e4 140px,#259be8 150px,#2994ed 160px,#2d8df2 170px,#2e86f7 180px,#2f7ffb 190px,#317dfc 194px)"></i>
<i style="top:90px;background:linear-gradient(90deg,#d4bf27 0px,#b6c532 10px,#95ca49 20px,#75cc61 30px,#5acc78 40px,#42ca8b 50px,#35c79b 60px,#2bc3a8 70px,#1cc0b4 80px,#08bcbe 90px,#00b8c8 100px,#0ab4d2 110px,#17afda 120px,#1da9e0 130px,#22a2e4 140px,#259ce7 150px,#2895ec 160px,#2d8ef1 170px,#2d87f7 180px,#2f81fa 190px,#307efb 194px)"></i>
<i style="top:92px;background:linear-gradient(90deg,#d8be28 0px,#bac430 10px,#99c946 20px,#79cc5e 30px,#5dcc75 40px,#45cb89 50px,#36c899 60px,#2cc4a6 70px,#1ec0b2 80px,#0abdbd 90px,#00b9c7 100px,#08b4d1 110px,#16afd9 120px,#1ca9df 130px,#21a3e3 140px,#259ce7 150px,#2896eb 160px,#2c8ff0 170px,#2d88f6 180px,#2f82fa 190px,#307ffb 194px)"></i>
<i style="top:94px;background:linear-gradient(90deg,#dbbd28 0px,#bec32e 10px,#9dc943 20px,#7dcc5c 30px,#60cd73 40px,#47cb86 50px,#37c897 60px,#2ec4a5 70px,#20c1b1 80px,#0cbdbc 90px,#00b9c6 100px,#07b5d0 110px,#14b0d8 120px,#1caadf 130px,#21a4e3 140px,#259de6 150px,#2797eb 160px,#2c90f0 170px,#2d89f5 180px,#2e83f9 190px,#2f80fa 194px)"></i>
<i style="top:96px;background:linear-gradient(90deg,#debc29 0px,#c1c32c 10px,#a1c840 20px,#81cc59 30px,#63cd70 40px,#4acb84 50px,#38c895 60px,#2fc5a3 70px,#22c1b0 80px,#0fbebb 90px,#01bac5 100px,#05b5ce 110px,#13b1d7 120px,#1babde 130px,#20a5e3 140px,#249ee6 150px,#2798ea 160px,#2b91ef 170px,#2d8af4 180px,#2e84f9 190px,#2f81fa 194px)"></i>
<i style="top:98px;background:linear-gradient(90deg,#e2bc2b 0px,#c5c22a 10px,#a5c83d 20px,#84cc56 30px,#66cd6d 40px,#4dcc82 50px,#3ac993 60px,#30c5a2 70px,#24c1ae 80px,#12beb9 90px,#01bac4 100px,#04b6cd 110px,#12b1d6 120px,#1aacdd 130px,#1fa5e2 140px,#249fe5 150px,#2699ea 160px,#2b92ee 170px,#2d8bf4 180px,#2e84f8 190px,#2f82f9 194px)"></i>
<i style="top:100px;background:linear-gradient(90deg,#e5bb2c 0px,#c9c129 10px,#a8c73b 20px,#88cb53 30px,#69cd6a 40px,#50cc80 50px,#3cc992 60px,#31c6a0 70px,#26c2ad 80px,#14bfb8 90px,#02bbc3 100px,#02b7cc 110px,#10b2d5 120px,#1aacdc 130px,#1fa6e2 140px,#23a0e5 150px,#2699e9 160px,#2a93ee 170px,#2d8cf3 180px,#2e85f8 190px,#2e83f9 194px)"></i>
<i style="top:102px;background:linear-gradient(90deg,#e8bb2f 0px,#ccc028 10px,#acc738 20px,#8ccb50 30px,#6ccd68 40px,#53cc7e 50px,#3dca90 60px,#32c69f 70px,#28c2ab 80px,#17bfb7 90px,#04bbc1 100px,#02b7cb 110px,#0eb2d4 120px,#19addc 130px,#1ea7e1 140px,#23a1e5 150px,#269ae8 160px,#2994ed 170px,#2d8df2 180px,#2e86f7 190px,#2e84f8 194px)"></i>
<i style="top:104px;background:linear-gradient(90deg,#ebba31 0px,#d0c027 10px,#b0c636 20px,#8fcb4d 30px,#70cd65 40px,#56cc7b 50px,#3fca8e 60px,#33c69d 70px,#29c3aa 80px,#19bfb5 90px,#05bcc0 100px,#01b8ca 110px,#0db3d3 120px,#18aedb 130px,#1da8e1 140px,#22a1e4 150px,#259be8 160px,#2994ed 170px,#2d8ef1 180px,#2d87f7 190px,#2e85f8 194px)"></i>
<i style="top:106px;background:linear-gradient(90deg,#eeba34 0px,#d3bf27 10px,#b4c534 20px,#93ca4b 30px,#73cd62 40px,#58cc79 50px,#41ca8c 60px,#34c79b 70px,#2bc3a9 80px,#1bc0b4 90px,#07bcbf 100px,#00b8c9 110px,#0bb4d2 120px,#17aeda 130px,#1da8e0 140px,#22a2e4 150px,#259ce7 160px,#2895ec 170px,#2c8ff1 180px,#2d88f6 190px,#2e86f7 194px)"></i>
<i style="top:108px;background:linear-gradient(90deg,#f1ba37 0px,#d7be28 10px,#b7c531 20px,#97ca48 30px,#77cc60 40px,#5bcc76 50px,#44cb8a 60px,#35c79a 70px,#2cc4a7 80px,#1ec0b3 90px,#09bdbe 100px,#00b9c8 110px,#09b4d1 120px,#16afd9 130px,#1ca9df 140px,#21a3e3 150px,#259de7 160px,#2896eb 170px,#2c90f0 180px,#2d89f5 190px,#2e87f7 194px)"></i>
<i style="top:110px;background:linear-gradient(90deg,#f4ba3a 0px,#dabd28 10px,#bbc42f 20px,#9bc945 30px,#7bcc5d 40px,#5ecd74 50px,#46cb87 60px,#36c898 70px,#2dc4a6 80px,#20c1b1 90px,#0bbdbc 100px,#00b9c7 110px,#07b5d0 120px,#15b0d8 130px,#1caadf 140px,#21a4e3 150px,#259de6 160px,#2797eb 170px,#2c90ef 180px,#2d8af5 190px,#2d88f6 194px)"></i>
<i style="top:112px;background:linear-gradient(90deg,#f7ba3c 0px,#ddbd29 10px,#bfc32d 20px,#9ec942 30px,#7ecc5a 40px,#61cd71 50px,#49cb85 60px,#38c896 70px,#2ec4a4 80px,#22c1b0 90px,#0ebdbb 100px,#01bac5 110px,#06b5cf 120px,#13b0d7 130px,#1babde 140px,#20a5e3 150px,#249ee6 160px,#2798ea 170px,#2b91ef 180px,#2d8bf4 190px,#2d89f6 194px)"></i>
<i style="top:114px;background:linear-gradient(90deg,#faba3e 0px,#e1bc2a 10px,#c2c22b 20px,#a2c83f 30px,#82cc58 40px,#64cd6f 50px,#4ccb83 60px,#39c994 70px,#2fc5a3 80px,#24c1af 90px,#11beba 100px,#01bac4 110px,#04b6ce 120px,#12b1d6 130px,#1aabdd 140px,#1fa5e2 150px,#249fe5 160px,#2699e9 170px,#2b92ee 180px,#2d8cf3 190px,#2d89f5 194px)"></i>
<i style="top:116px;background:linear-gradient(90deg,#fcbb3e 0px,#e4bb2c 10px,#c6c22a 20px,#a6c83c 30px,#86cb55 40px,#67cd6c 50px,#4ecc81 60px,#3bc992 70px,#30c5a1 80px,#25c2ad 90px,#13beb9 100px,#02bbc3 110px,#03b6cd 120px,#11b2d5 130px,#1aacdd 140px,#1fa6e2 150px,#23a0e5 160px,#2699e9 170px,#2a93ee 180px,#2d8cf3 190px,#2d8af4 194px)"></i>
<i style="top:118px;background:linear-gradient(90deg,#febd3d 0px,#e7bb2e 10px,#cac128 20px,#aac73a 30px,#8acb52 40px,#6bcd69 50px,#51cc7f 60px,#3dc990 70px,#31c69f 80px,#27c2ac 90px,#15bfb7 100px,#03bbc2 110px,#02b7cc 120px,#0fb2d4 130px,#19addc 140px,#1ea7e1 150px,#23a0e5 160px,#269ae8 170px,#2994ed 180px,#2d8df2 190px,#2d8bf4 194px)"></i>
<i style="top:120px;background:linear-gradient(90deg,#febf3b 0px,#eaba30 10px,#cdc028 20px,#adc637 30px,#8dcb4f 40px,#6ecd67 50px,#54cc7c 60px,#3eca8f 70px,#32c69e 80px,#29c3ab 90px,#18bfb6 100px,#04bcc1 110px,#01b7ca 120px,#0db3d3 130px,#18addb 140px,#1ea8e1 150px,#22a1e4 160px,#259be8 170px,#2995ec 180px,#2d8ef1 190px,#2d8cf3 194px)"></i>
<i style="top:122px;background:linear-gradient(90deg,#fec13a 0px,#edba33 10px,#d1bf27 20px,#b1c635 30px,#91ca4c 40px,#71cd64 50px,#57cc7a 60px,#40ca8d 70px,#34c79c 80px,#2ac3a9 90px,#1ac0b5 100px,#06bcbf 110px,#01b8c9 120px,#0bb3d2 130px,#17aeda 140px,#1da8e0 150px,#22a2e4 160px,#259ce7 170px,#2895ec 180px,#2c8ff0 190px,#2d8df2 194px)"></i>
<i style="top:124px;background:linear-gradient(90deg,#fec338 0px,#f0ba36 10px,#d4bf27 20px,#b5c533 30px,#95ca49 40px,#75cc61 50px,#5acc78 60px,#43ca8a 70px,#35c79a 80px,#2bc3a8 90px,#1dc0b3 100px,#08bcbe 110px,#00b8c8 120px,#0ab4d1 130px,#16afd9 140px,#1da9e0 150px,#21a3e4 160px,#259ce7 170px,#2796eb 180px,#2c90f0 190px,#2d8ef2 194px)"></i>
<i style="top:126px;background:linear-gradient(90deg,#fec537 0px,#f3ba39 10px,#d7be28 20px,#b9c431 30px,#98ca47 40px,#79cc5e 50px,#5dcd75 60px,#45cb88 70px,#36c899 80px,#2dc4a6 90px,#1fc0b2 100px,#0abdbd 110px,#00b9c7 120px,#08b4d0 130px,#15afd9 140px,#1caadf 150px,#21a4e3 160px,#259de6 170px,#2797eb 180px,#2b91ef 190px,#2d8ef1 194px)"></i>
<i style="top:128px;background:linear-gradient(90deg,#fec735 0px,#f5ba3b 10px,#dbbd28 20px,#bcc42f 30px,#9cc944 40px,#7ccc5c 50px,#60cd73 60px,#48cb86 70px,#37c897 80px,#2ec4a5 90px,#21c1b1 100px,#0dbdbc 110px,#00b9c6 120px,#06b5cf 130px,#14b0d8 140px,#1baade 150px,#20a4e3 160px,#249ee6 170px,#2798ea 180px,#2b91ef 190px,#2c8ff0 194px)"></i>
<i style="top:130px;background:linear-gradient(90deg,#fec934 0px,#f8ba3d 10px,#debc29 20px,#c0c32d 30px,#a0c941 40px,#80cc59 50px,#63cd70 60px,#4acb84 70px,#39c895 80px,#2fc5a3 90px,#23c1af 100px,#10beba 110px,#01bac5 120px,#05b6ce 130px,#13b1d7 140px,#1babde 150px,#20a5e2 160px,#249fe5 170px,#2699e9 180px,#2a92ee 190px,#2c90f0 194px)"></i>
<i style="top:132px;background:linear-gradient(90deg,#fdcc32 0px,#fbbb3e 10px,#e1bc2a 20px,#c3c22b 30px,#a3c83e 40px,#84cc56 50px,#66cd6d 60px,#4dcc82 70px,#3ac993 80px,#30c5a2 90px,#25c2ae 100px,#12beb9 110px,#02bac3 120px,#03b6cd 130px,#11b1d6 140px,#1aacdd 150px,#1fa6e2 160px,#23a0e5 170px,#2699e9 180px,#2a93ed 190px,#2b91ef 194px)"></i>
<i style="top:134px;background:linear-gradient(90deg,#fdce31 0px,#fdbc3e 10px,#e4bb2c 20px,#c7c129 30px,#a7c73c 40px,#87cb54 50px,#69cd6b 60px,#50cc80 70px,#3cc991 80px,#31c6a0 90px,#26c2ac 100px,#15bfb8 110px,#03bbc2 120px,#02b7cc 130px,#10b2d5 140px,#19addc 150px,#1ea7e1 160px,#23a0e5 170px,#269ae8 180px,#2994ed 190px,#2b92ee 194px)"></i>
<i style="top:136px;background:linear-gradient(90deg,#fcd030 0px,#febe3c 10px,#e7bb2e 20px,#cac128 30px,#abc739 40px,#8bcb51 50px,#6ccd68 60px,#53cc7d 70px,#3eca8f 80px,#32c69e 90px,#28c2ab 100px,#17bfb6 110px,#04bbc1 120px,#01b7cb 130px,#0eb3d4 140px,#18addb 150px,#1ea7e1 160px,#22a1e4 170px,#259be8 180px,#2895ec 190px,#2a93ee 194px)"></i>
<i style="top:138px;background:linear-gradient(90deg,#fbd32f 0px,#fec03b 10px,#eaba30 20px,#cec027 30px,#afc637 40px,#8fcb4e 50px,#70cd65 60px,#56cc7b 70px,#40ca8d 80px,#33c79d 90px,#29c3aa 100px,#19bfb5 110px,#05bcc0 120px,#01b8ca 130px,#0cb3d3 140px,#17aeda 150px,#1da8e0 160px,#22a2e4 170px,#259ce7 180px,#2896ec 190px,#2a93ed 194px)"></i>
<i style="top:140px;background:linear-gradient(90deg,#fad52d 0px,#fec239 10px,#edba33 20px,#d1bf27 30px,#b2c534 40px,#92ca4b 50px,#73cd63 60px,#59cc79 70px,#42ca8b 80px,#34c79b 90px,#2bc3a8 100px,#1cc0b4 110px,#07bcbe 120px,#00b8c8 130px,#0ab4d2 140px,#16afda 150px,#1da9e0 160px,#21a3e4 170px,#259de7 180px,#2796eb 190px,#2994ed 194px)"></i>
<i style="top:142px;background:linear-gradient(90deg,#f9d72c 0px,#fec438 10px,#f0ba36 20px,#d5be27 30px,#b6c532 40px,#96ca48 50px,#77cc60 60px,#5bcc76 70px,#44cb89 80px,#35c799 90px,#2cc4a7 100px,#1ec0b2 110px,#0abdbd 120px,#00b9c7 130px,#08b4d1 140px,#15afd9 150px,#1caadf 160px,#21a4e3 170px,#259de6 180px,#2797eb 190px,#2895ec 194px)"></i>
<i style="top:144px;background:linear-gradient(90deg,#f8da2b 0px,#fec636 10px,#f3ba39 20px,#d8be28 30px,#bac430 40px,#9ac945 50px,#7acc5d 60px,#5ecd74 70px,#47cb87 80px,#37c898 90px,#2dc4a5 100px,#20c1b1 110px,#0cbdbc 120px,#00b9c6 130px,#06b5cf 140px,#14b0d8 150px,#1baade 160px,#20a4e3 170px,#249ee6 180px,#2698ea 190px,#2896ec 194px)"></i>
<i style="top:146px;background:linear-gradient(90deg,#f7dc2a 0px,#fec835 10px,#f6ba3b 20px,#dbbd28 30px,#bdc32e 40px,#9dc943 50px,#7ecc5b 60px,#61cd71 70px,#49cb85 80px,#38c896 90px,#2fc5a4 100px,#22c1b0 110px,#0fbebb 120px,#01bac5 130px,#05b6ce 140px,#13b1d7 150px,#1babde 160px,#20a5e2 170px,#249fe5 180px,#2699e9 190px,#2797eb 194px)"></i>
<i style="top:148px;background:linear-gradient(90deg,#f6df29 0px,#feca33 10px,#f8ba3d 20px,#debc29 30px,#c1c32c 40px,#a1c840 50px,#82cc58 60px,#64cd6e 70px,#4ccb83 80px,#3ac994 90px,#30c5a2 100px,#24c1ae 110px,#12beb9 120px,#01bac4 130px,#04b6cd 140px,#11b1d6 150px,#1aacdd 160px,#1fa6e2 170px,#23a0e5 180px,#269ae9 190px,#2798ea 194px)"></i>
<i style="top:150px;background:linear-gradient(90deg,#f5e128 0px,#fdcc32 10px,#fbbb3e 20px,#e2bc2b 30px,#c4c22a 40px,#a5c83d 50px,#85cb55 60px,#68cd6c 70px,#4fcc81 80px,#3bc992 90px,#31c6a0 100px,#26c2ad 110px,#14bfb8 120px,#02bbc2 130px,#02b7cc 140px,#10b2d5 150px,#19addc 160px,#1ea7e1 170px,#23a1e5 180px,#259ae8 190px,#2698ea 194px)"></i>
<i style="top:152px;background:linear-gradient(90deg,#f5e427 0px,#fdce31 10px,#fdbc3e 20px,#e5bb2c 30px,#c8c129 40px,#a9c73b 50px,#89cb52 60px,#6bcd69 70px,#52cc7e 80px,#3dca90 90px,#32c69f 100px,#28c2ab 110px,#17bfb7 120px,#04bbc1 130px,#01b7cb 140px,#0eb3d4 150px,#18addb 160px,#1ea8e1 170px,#22a1e4 180px,#259be8 190px,#2699e9 194px)"></i>
<i style="top:154px;background:linear-gradient(90deg,#f5e626 0px,#fcd12f 10px,#febe3c 20px,#e8bb2e 30px,#cbc128 40px,#acc738 50px,#8dcb50 60px,#6ecd66 70px,#55cc7c 80px,#3fca8e 90px,#33c69d 100px,#29c3aa 110px,#19bfb5 120px,#05bcc0 130px,#01b8ca 140px,#0cb3d3 150px,#17aeda 160px,#1da8e0 170px,#22a2e4 180px,#259ce7 190px,#269ae8 194px)"></i>
<i style="top:156px;background:linear-gradient(90deg,#f5e825 0px,#fbd32e 10px,#fec03b 20px,#ebba30 30px,#cfc027 40px,#b0c636 50px,#90ca4d 60px,#72cd64 70px,#58cc79 80px,#41ca8c 90px,#34c79b 100px,#2bc3a8 110px,#1cc0b4 120px,#07bcbe 130px,#00b8c8 140px,#0ab4d2 150px,#16afd9 160px,#1ca9e0 170px,#21a3e3 180px,#259de6 190px,#259be8 194px)"></i>
<i style="top:158px;background:linear-gradient(90deg,#f5eb23 0px,#fad52d 10px,#fec139 20px,#edba33 30px,#d2bf27 40px,#b3c534 50px,#94ca4a 60px,#75cc61 70px,#5bcc77 80px,#44cb8a 90px,#35c79a 100px,#2cc4a7 110px,#1ec0b2 120px,#0abdbd 130px,#00b9c7 140px,#08b4d0 150px,#15afd8 160px,#1caadf 170px,#20a4e3 180px,#249ee6 190px,#259ce7 194px)"></i>
<i style="top:160px;background:linear-gradient(90deg,#f5ed22 0px,#f9d82c 10px,#fec338 20px,#f0ba36 30px,#d5be27 40px,#b7c532 50px,#98ca47 60px,#79cc5e 70px,#5ecd74 80px,#46cb88 90px,#37c898 100px,#2dc4a5 110px,#20c1b1 120px,#0dbdbc 130px,#00b9c6 140px,#06b5cf 150px,#14b0d7 160px,#1babde 170px,#20a5e2 180px,#249fe5 190px,#259de7 194px)"></i>
<i style="top:162px;background:linear-gradient(90deg,#f6f020 0px,#f8da2b 10px,#fec536 20px,#f3ba39 30px,#d8be28 40px,#bbc430 50px,#9bc944 60px,#7dcc5c 70px,#60cd72 80px,#49cb85 90px,#38c896 100px,#2fc5a4 110px,#23c1af 120px,#0fbeba 130px,#01bac5 140px,#04b6ce 150px,#12b1d6 160px,#1aacdd 170px,#1fa6e2 180px,#23a0e5 190px,#249de6 194px)"></i>
<i style="top:164px;background:linear-gradient(90deg,#f6f21e 0px,#f7dc2a 10px,#fec735 20px,#f5ba3b 30px,#dcbd29 40px,#bec32e 50px,#9fc941 60px,#80cc59 70px,#64cd6f 80px,#4ccb83 90px,#3ac994 100px,#30c5a2 110px,#25c2ae 120px,#12beb9 130px,#02bac3 140px,#03b6cd 150px,#10b2d5 160px,#1aacdc 170px,#1ea6e1 180px,#23a0e5 190px,#249ee6 194px)"></i>
<i style="top:166px;background:linear-gradient(90deg,#f7f41c 0px,#f6df29 10px,#feca34 20px,#f8ba3d 30px,#dfbc29 40px,#c2c32c 50px,#a3c83f 60px,#84cc56 70px,#67cd6c 80px,#4fcc81 90px,#3bc992 100px,#31c6a0 110px,#26c2ac 120px,#15bfb8 130px,#03bbc2 140px,#02b7cc 150px,#0fb2d4 160px,#19addc 170px,#1ea7e1 180px,#22a1e4 190px,#249fe5 194px)"></i>
<i style="top:168px;background:linear-gradient(90deg,#f8f719 0px,#f5e128 10px,#fdcc32 20px,#fbbb3e 30px,#e2bc2b 40px,#c5c22a 50px,#a6c83c 60px,#88cb53 70px,#6acd6a 80px,#51cc7e 90px,#3dca90 100px,#32c69f 110px,#28c2ab 120px,#18bfb6 130px,#04bcc1 140px,#01b8ca 150px,#0db3d3 160px,#18aedb 170px,#1da8e0 180px,#22a2e4 190px,#23a0e5 194px)"></i>
</div>
<svg width="602" height="487"><path d="M66.2 414.2L66.2 280.7M84.3 412.3L84.3 278.9M102.5 410.5L102.5 277.1M120.7 408.7L120.7 275.2M138.8 406.9L138.8 273.4M157.0 405.0L157.0 271.6M48.0 416.0L157.0 405.0M48.0 374.3L157.0 363.3M48.0 332.6L157.0 321.6M48.0 290.9L157.0 279.9M204.5 411.2L204.5 277.8M252.0 417.4L252.0 284.0M157.0 405.0L252.0 417.4M157.0 363.3L252.0 375.7M157.0 321.6L252.0 334.0M157.0 279.9L252.0 292.3M95.5 422.2L204.5 411.2M66.2 414.2L161.2 426.6M84.3 412.3L179.3 424.7M102.5 410.5L197.5 422.9M120.7 408.7L215.7 421.1M138.8 406.9L233.8 419.2" stroke="#d9d9d9" stroke-width="0.7" fill="none"/>
<path d="M48.0 416.0L48.0 282.6M48.0 416.0L143.0 428.4M143.0 428.4L252.0 417.4M48.0 416.0h-3.4M48.0 374.3h-3.4M48.0 332.6h-3.4M48.0 290.9h-3.4M48.0 416.0l0 2.5M95.5 422.2l0 2.5M143.0 428.4l0 2.5M161.2 426.6l0 2.2M179.3 424.7l0 2.2M197.5 422.9l0 2.2M215.7 421.1l0 2.2M233.8 419.2l0 2.2" stroke="#6a6a6a" stroke-width="1.1" fill="none"/>
<path d="M372.8 406.9L372.8 309.7M390.7 412.3L390.7 315.2M408.5 417.8L408.5 320.7M426.3 423.3L426.3 326.2M444.1 428.8L444.1 331.6M355.0 390.9L462.0 423.7M355.0 349.5L462.0 382.3M355.0 308.1L462.0 340.9M462.0 434.2L462.0 337.1M514.3 418.3L514.3 321.1M566.7 402.3L566.7 305.2M462.0 423.7L566.7 391.8M462.0 382.3L566.7 350.4M462.0 340.9L566.7 309.0M355.0 304.3L462.0 337.1M407.4 288.3L514.3 321.1M459.7 272.4L566.7 305.2M355.0 304.3L459.7 272.4M372.8 309.7L477.5 277.8M390.7 315.2L495.4 283.3M408.5 320.7L513.2 288.8M426.3 326.2L531.0 294.3M444.1 331.6L548.9 299.7" stroke="#d9d9d9" stroke-width="0.7" fill="none"/>
<path d="M355.0 401.4L355.0 304.3M355.0 401.4L462.0 434.2M462.0 434.2L566.7 402.3M355.0 390.9h-3M355.0 349.5h-3M355.0 308.1h-3M372.8 406.9l-1.2 2M390.7 412.3l-1.2 2M408.5 417.8l-1.2 2M426.3 423.3l-1.2 2M444.1 428.8l-1.2 2M462.0 434.2l1.2 1.5M514.3 418.3l1.2 1.5M566.7 402.3l1.2 1.5" stroke="#6a6a6a" stroke-width="1.1" fill="none"/></svg>
<div class="sf" style="left:74px;top:276px;width:161px;height:90px;clip-path:path('M16.2 36.2L1.6 43.7L11.5 50.8L22.9 58.3L34.2 65.1L44.3 70.7L55.6 76.3L65.7 80.8L77.1 85.2L87.2 88.6L95.7 86.2L105.4 83.4L114.0 80.6L123.6 77.3L133.3 73.8L141.8 70.5L151.5 66.5L159.9 62.8L148.3 56.6L138.4 50.8L127.1 43.5L117.0 36.5L105.7 28.0L95.6 19.9L85.7 11.5L74.4 1.1L59.9 10.6L45.4 19.7L30.8 28.2Z')">
<i style="top:0px;height:2px;background:linear-gradient(90deg,#ffff10 0px,#ffff29 8px,#ffff47 16px,#ffff5e 24px,#ffff77 32px,#ffff8f 40px,#ffffa7 48px,#ffffc4 56px,#ffffde 64px,#fffff6 72px,#ffffe9 80px,#ffffcd 88px,#ffffb4 96px,#ffff97 104px,#ffff73 112px,#ffff54 120px,#ffff3b 128px,#ffff1f 136px,#fffd00 144px,#ffed00 152px,#ffd900 160px,#ffd600 161px)"></i>
<i style="top:2px;height:2px;background:linear-gradient(90deg,#ffff10 0px,#ffff29 8px,#ffff42 16px,#ffff59 24px,#ffff73 32px,#ffff8f 40px,#ffffa7 48px,#ffffc0 56px,#ffffd8 64px,#ffffef 72px,#ffffe2 80px,#ffffca 88px,#ffffab 96px,#ffff8b 104px,#ffff73 112px,#ffff54 120px,#ffff36 128px,#ffff19 136px,#fffa00 144px,#ffed00 152px,#ffd400 160px,#ffd400 161px)"></i>
<i style="top:4px;height:2px;background:linear-gradient(90deg,#ffff0c 0px,#ffff28 8px,#ffff3e 16px,#ffff55 24px,#ffff6f 32px,#ffff8a 40px,#ffffa0 48px,#ffffb8 56px,#ffffd3 64px,#ffffe1 72px,#ffffda 80px,#ffffbf 88px,#ffff9f 96px,#ffff86 104px,#ffff69 112px,#ffff4a 120px,#ffff32 128px,#ffff15 136px,#fffa00 144px,#ffe900 152px,#ffd400 160px,#ffd400 161px)"></i>
<i style="top:6px;height:2px;background:linear-gradient(90deg,#ffff0c 0px,#ffff24 8px,#ffff39 16px,#ffff55 24px,#ffff6c 32px,#ffff84 40px,#ffff9d 48px,#ffffb6 56px,#ffffd0 64px,#ffffd3 72px,#ffffd2 80px,#ffffb7 88px,#ffff9c 96px,#ffff82 104px,#ffff63 112px,#ffff4a 120px,#ffff2e 128px,#ffff0e 136px,#fff500 144px,#ffe500 152px,#ffd100 160px,#ffd100 161px)"></i>
<i style="top:8px;height:2px;background:linear-gradient(90deg,#ffff08 0px,#ffff1f 8px,#ffff39 16px,#ffff4d 24px,#ffff69 32px,#ffff7f 40px,#ffff99 48px,#ffffb3 56px,#ffffc5 64px,#ffffc4 72px,#ffffc4 80px,#ffffb4 88px,#ffff9c 96px,#ffff79 104px,#ffff60 112px,#ffff41 120px,#ffff23 128px,#ffff0a 136px,#fff200 144px,#ffdc00 152px,#ffd100 160px,#ffcc00 161px)"></i>
<i style="top:10px;height:2px;background:linear-gradient(90deg,#ffff08 0px,#ffff1b 8px,#ffff35 16px,#ffff4d 24px,#ffff65 32px,#ffff7d 40px,#ffff96 48px,#ffffaf 56px,#ffffb6 64px,#ffffb7 72px,#ffffb6 80px,#ffffad 88px,#ffff91 96px,#ffff75 104px,#ffff55 112px,#ffff3b 120px,#ffff1f 128px,#ffff03 136px,#ffef00 144px,#ffdc00 152px,#ffcc00 160px,#ffc900 161px)"></i>
<i style="top:12px;height:2px;background:linear-gradient(90deg,#ffff05 0px,#ffff18 8px,#ffff30 16px,#ffff47 24px,#ffff62 32px,#ffff7a 40px,#ffff91 48px,#ffffa9 56px,#ffffa9 64px,#ffffa9 72px,#ffffa7 80px,#ffffa6 88px,#ffff89 96px,#ffff71 104px,#ffff54 112px,#ffff3b 120px,#ffff19 128px,#fffd00 136px,#ffed00 144px,#ffd900 152px,#ffc900 160px,#ffc900 161px)"></i>
<i style="top:14px;height:2px;background:linear-gradient(90deg,#ffff00 0px,#ffff13 8px,#ffff2c 16px,#ffff44 24px,#ffff5c 32px,#ffff74 40px,#ffff8d 48px,#ffff9c 56px,#ffff9a 64px,#ffff9b 72px,#ffff99 80px,#ffff9a 88px,#ffff86 96px,#ffff67 104px,#ffff4a 112px,#ffff32 120px,#ffff19 128px,#fffa00 136px,#ffe900 144px,#ffd600 152px,#ffc500 160px,#ffc500 161px)"></i>
<i style="top:16px;height:2px;background:linear-gradient(90deg,#fffc00 0px,#ffff10 8px,#ffff28 16px,#ffff41 24px,#ffff5b 32px,#ffff71 40px,#ffff8a 48px,#ffff8d 56px,#ffff8d 64px,#ffff8d 72px,#ffff8b 80px,#ffff8c 88px,#ffff7f 96px,#ffff63 104px,#ffff4a 112px,#ffff2f 120px,#ffff0e 128px,#fff600 136px,#ffe900 144px,#ffd400 152px,#ffc300 160px,#ffc300 161px)"></i>
<i style="top:18px;height:2px;background:linear-gradient(90deg,#fffa00 0px,#ffff0c 8px,#ffff25 16px,#ffff3f 24px,#ffff57 32px,#ffff6d 40px,#ffff7f 48px,#ffff7f 56px,#ffff7e 64px,#ffff7e 72px,#ffff7d 80px,#ffff7e 88px,#ffff79 96px,#ffff5c 104px,#ffff3f 112px,#ffff25 120px,#ffff0b 128px,#fff300 136px,#ffe200 144px,#ffd200 152px,#ffbd00 160px,#ffbd00 161px)"></i>
<i style="top:20px;height:2px;background:linear-gradient(90deg,#fffa00 0px,#ffff0c 8px,#ffff24 16px,#ffff3c 24px,#ffff51 32px,#ffff69 40px,#ffff71 48px,#ffff71 56px,#ffff71 64px,#ffff70 72px,#ffff70 80px,#ffff70 88px,#ffff6f 96px,#ffff58 104px,#ffff3d 112px,#ffff23 120px,#ffff06 128px,#fff200 136px,#ffdc00 144px,#ffcf00 152px,#ffbd00 160px,#ffba00 161px)"></i>
<i style="top:22px;height:2px;background:linear-gradient(90deg,#fff500 0px,#ffff08 8px,#ffff21 16px,#ffff36 24px,#ffff4f 32px,#ffff63 40px,#ffff63 48px,#ffff63 56px,#ffff63 64px,#ffff62 72px,#ffff63 80px,#ffff62 88px,#ffff62 96px,#ffff53 104px,#ffff38 112px,#ffff1b 120px,#ffff03 128px,#ffef00 136px,#ffdc00 144px,#ffcc00 152px,#ffba00 160px,#ffb700 161px)"></i>
<i style="top:24px;height:2px;background:linear-gradient(90deg,#fff300 0px,#ffff06 8px,#ffff1d 16px,#ffff33 24px,#ffff4b 32px,#ffff56 40px,#ffff56 48px,#ffff55 56px,#ffff54 64px,#ffff54 72px,#ffff54 80px,#ffff55 88px,#ffff54 96px,#ffff4d 104px,#ffff33 112px,#ffff19 120px,#fffd00 128px,#ffed00 136px,#ffd900 144px,#ffc900 152px,#ffb500 160px,#ffb500 161px)"></i>
<i style="top:26px;height:2px;background:linear-gradient(90deg,#fff300 0px,#ffff03 8px,#ffff18 16px,#ffff31 24px,#ffff47 32px,#ffff48 40px,#ffff48 48px,#ffff47 56px,#ffff46 64px,#ffff46 72px,#ffff47 80px,#ffff47 88px,#ffff46 96px,#ffff46 104px,#ffff2d 112px,#ffff11 120px,#fff800 128px,#ffe900 136px,#ffd600 144px,#ffc500 152px,#ffb500 160px,#ffb100 161px)"></i>
<i style="top:28px;height:2px;background:linear-gradient(90deg,#fff100 0px,#ffff02 8px,#ffff15 16px,#ffff2d 24px,#ffff3a 32px,#ffff39 40px,#ffff39 48px,#ffff39 56px,#ffff39 64px,#ffff39 72px,#ffff38 80px,#ffff38 88px,#ffff38 96px,#ffff39 104px,#ffff27 112px,#ffff11 120px,#fff600 128px,#ffe700 136px,#ffd400 144px,#ffc300 152px,#ffb100 160px,#ffb100 161px)"></i>
<i style="top:30px;height:2px;background:linear-gradient(90deg,#ffef00 0px,#fffe00 8px,#ffff11 16px,#ffff29 24px,#ffff2d 32px,#ffff2b 40px,#ffff2b 48px,#ffff2b 56px,#ffff2b 64px,#ffff2b 72px,#ffff2b 80px,#ffff2b 88px,#ffff2b 96px,#ffff2b 104px,#ffff23 112px,#ffff07 120px,#fff300 128px,#ffe200 136px,#ffd200 144px,#ffc300 152px,#ffb100 160px,#ffaf00 161px)"></i>
<i style="top:32px;height:2px;background:linear-gradient(90deg,#ffec00 0px,#fffc00 8px,#ffff10 16px,#ffff20 24px,#ffff1e 32px,#ffff1e 40px,#ffff1e 48px,#ffff1d 56px,#ffff1e 64px,#ffff1d 72px,#ffff1c 80px,#ffff1c 88px,#ffff1c 96px,#ffff1c 104px,#ffff1d 112px,#ffff05 120px,#ffef00 128px,#ffdf00 136px,#ffcf00 144px,#ffbe00 152px,#ffac00 160px,#ffab00 161px)"></i>
<i style="top:34px;height:2px;background:linear-gradient(90deg,#ffeb00 0px,#fff900 8px,#ffff0c 16px,#ffff11 24px,#ffff11 32px,#ffff11 40px,#ffff11 48px,#ffff10 56px,#ffff0f 64px,#ffff0f 72px,#ffff0f 80px,#ffff10 88px,#ffff0f 96px,#ffff0e 104px,#ffff0f 112px,#ffff00 120px,#ffef00 128px,#ffdb00 136px,#ffce00 144px,#ffba00 152px,#ffab00 160px,#ffa900 161px)"></i>
<i style="top:36px;height:2px;background:linear-gradient(90deg,#ffe900 0px,#fff700 8px,#ffff04 16px,#ffff04 24px,#ffff03 32px,#ffff03 40px,#ffff03 48px,#ffff02 56px,#ffff01 64px,#ffff01 72px,#ffff01 80px,#ffff01 88px,#ffff01 96px,#ffff01 104px,#ffff01 112px,#fffa00 120px,#ffea00 128px,#ffda00 136px,#ffca00 144px,#ffb800 152px,#ffa900 160px,#ffa900 161px)"></i>
<i style="top:38px;height:2px;background:linear-gradient(90deg,#ffe700 0px,#fff500 8px,#fff800 16px,#fff900 24px,#fff800 32px,#fff700 40px,#fff700 48px,#fff700 56px,#fff700 64px,#fff700 72px,#fff700 80px,#fff700 88px,#fff700 96px,#fff600 104px,#fff700 112px,#fff700 120px,#ffe700 128px,#ffd600 136px,#ffc700 144px,#ffb500 152px,#ffa700 160px,#ffa700 161px)"></i>
<i style="top:40px;height:2px;background:linear-gradient(90deg,#ffe600 0px,#fff000 8px,#ffef00 16px,#ffef00 24px,#ffef00 32px,#ffee00 40px,#ffee00 48px,#ffee00 56px,#ffee00 64px,#ffee00 72px,#ffee00 80px,#ffed00 88px,#ffee00 96px,#ffee00 104px,#ffee00 112px,#ffee00 120px,#ffe400 128px,#ffd500 136px,#ffc300 144px,#ffb300 152px,#ffa700 160px,#ffa400 161px)"></i>
<i style="top:42px;height:2px;background:linear-gradient(90deg,#ffe500 0px,#ffe700 8px,#ffe700 16px,#ffe700 24px,#ffe600 32px,#ffe600 40px,#ffe500 48px,#ffe500 56px,#ffe500 64px,#ffe500 72px,#ffe500 80px,#ffe500 88px,#ffe500 96px,#ffe500 104px,#ffe400 112px,#ffe500 120px,#ffe200 128px,#ffd100 136px,#ffc300 144px,#ffb100 152px,#ffa200 160px,#ffa200 161px)"></i>
<i style="top:44px;height:2px;background:linear-gradient(90deg,#ffe400 0px,#ffde00 8px,#ffdd00 16px,#ffdd00 24px,#ffdd00 32px,#ffdd00 40px,#ffdc00 48px,#ffdc00 56px,#ffdc00 64px,#ffdc00 72px,#ffdc00 80px,#ffdc00 88px,#ffdc00 96px,#ffdc00 104px,#ffdb00 112px,#ffdc00 120px,#ffdb00 128px,#ffd000 136px,#ffc000 144px,#ffaf00 152px,#ffa000 160px,#ffa000 161px)"></i>
<i style="top:46px;height:2px;background:linear-gradient(90deg,#ffe200 0px,#ffd400 8px,#ffd400 16px,#ffd500 24px,#ffd400 32px,#ffd400 40px,#ffd400 48px,#ffd300 56px,#ffd300 64px,#ffd300 72px,#ffd300 80px,#ffd300 88px,#ffd200 96px,#ffd300 104px,#ffd300 112px,#ffd300 120px,#ffd200 128px,#ffcc00 136px,#ffbc00 144px,#ffad00 152px,#ff9e00 160px,#ff9e00 161px)"></i>
<i style="top:48px;height:2px;background:linear-gradient(90deg,#ffde00 0px,#ffcf00 8px,#ffcb00 16px,#ffcc00 24px,#ffcb00 32px,#ffca00 40px,#ffca00 48px,#ffca00 56px,#ffca00 64px,#ffca00 72px,#ffca00 80px,#ffca00 88px,#ffca00 96px,#ffca00 104px,#ffca00 112px,#ffca00 120px,#ffca00 128px,#ffc900 136px,#ffb900 144px,#ffaa00 152px,#ff9c00 160px,#ff9c00 161px)"></i>
<i style="top:50px;height:2px;background:linear-gradient(90deg,#ffdc00 0px,#ffcb00 8px,#ffc300 16px,#ffc300 24px,#ffc300 32px,#ffc200 40px,#ffc200 48px,#ffc100 56px,#ffc100 64px,#ffc100 72px,#ffc100 80px,#ffc100 88px,#ffc100 96px,#ffc100 104px,#ffc100 112px,#ffc100 120px,#ffc100 128px,#ffc100 136px,#ffb800 144px,#ffa900 152px,#ff9a00 160px,#ff9a00 161px)"></i>
<i style="top:52px;height:2px;background:linear-gradient(90deg,#ffd900 0px,#ffc900 8px,#ffba00 16px,#ffb900 24px,#ffb900 32px,#ffb900 40px,#ffb900 48px,#ffb900 56px,#ffb800 64px,#ffb900 72px,#ffb900 80px,#ffb900 88px,#ffb900 96px,#ffb800 104px,#ffb900 112px,#ffb900 120px,#ffb900 128px,#ffb900 136px,#ffb600 144px,#ffa700 152px,#ff9800 160px,#ff9800 161px)"></i>
<i style="top:54px;height:2px;background:linear-gradient(90deg,#ffd700 0px,#ffc700 8px,#ffb600 16px,#ffb100 24px,#ffb000 32px,#ffb000 40px,#ffb000 48px,#ffb000 56px,#ffb000 64px,#ffb000 72px,#ffaf00 80px,#ffaf00 88px,#ffaf00 96px,#ffb000 104px,#ffaf00 112px,#ffaf00 120px,#ffb000 128px,#ffb000 136px,#ffb000 144px,#ffa500 152px,#ff9700 160px,#ff9600 161px)"></i>
<i style="top:56px;height:2px;background:linear-gradient(90deg,#ffd300 0px,#ffc300 8px,#ffb300 16px,#ffa800 24px,#ffa800 32px,#ffa700 40px,#ffa700 48px,#ffa700 56px,#ffa700 64px,#ffa700 72px,#ffa600 80px,#ffa700 88px,#ffa700 96px,#ffa700 104px,#ffa700 112px,#ffa700 120px,#ffa700 128px,#ffa700 136px,#ffa700 144px,#ffa300 152px,#ff9500 160px,#ff9400 161px)"></i>
<i style="top:58px;height:2px;background:linear-gradient(90deg,#ffce00 0px,#ffc100 8px,#ffb100 16px,#ffa100 24px,#ff9f00 32px,#ff9f00 40px,#ff9f00 48px,#ff9e00 56px,#ff9e00 64px,#ff9e00 72px,#ff9e00 80px,#ff9e00 88px,#ff9e00 96px,#ff9e00 104px,#ff9e00 112px,#ff9e00 120px,#ff9e00 128px,#ff9f00 136px,#ff9f00 144px,#ffa000 152px,#ff9400 160px,#ff9300 161px)"></i>
<i style="top:60px;height:2px;background:linear-gradient(90deg,#ffcc00 0px,#ffbf00 8px,#ffad00 16px,#ff9e00 24px,#ff9600 32px,#ff9600 40px,#ff9600 48px,#ff9600 56px,#ff9600 64px,#ff9600 72px,#ff9600 80px,#ff9600 88px,#ff9600 96px,#ff9600 104px,#ff9600 112px,#ff9600 120px,#ff9600 128px,#ff9600 136px,#ff9700 144px,#ff9700 152px,#ff9200 160px,#ff9200 161px)"></i>
<i style="top:62px;height:2px;background:linear-gradient(90deg,#ffca00 0px,#ffbc00 8px,#ffab00 16px,#ff9a00 24px,#ff8e00 32px,#ff8e00 40px,#ff8e00 48px,#ff8d00 56px,#ff8d00 64px,#ff8d00 72px,#ff8d00 80px,#ff8d00 88px,#ff8d00 96px,#ff8d00 104px,#ff8e00 112px,#ff8e00 120px,#ff8d00 128px,#ff8e00 136px,#ff8e00 144px,#ff8e00 152px,#ff9100 160px,#ff9100 161px)"></i>
<i style="top:64px;height:2px;background:linear-gradient(90deg,#ffc800 0px,#ffb800 8px,#ffaa00 16px,#ff9900 24px,#ff8a00 32px,#ff8500 40px,#ff8500 48px,#ff8400 56px,#ff8500 64px,#ff8500 72px,#ff8400 80px,#ff8500 88px,#ff8400 96px,#ff8400 104px,#ff8400 112px,#ff8500 120px,#ff8500 128px,#ff8600 136px,#ff8500 144px,#ff8600 152px,#ff8f00 160px,#ff9000 161px)"></i>
<i style="top:66px;height:2px;background:linear-gradient(90deg,#ffc500 0px,#ffb600 8px,#ffa600 16px,#ff9800 24px,#ff8800 32px,#ff7d00 40px,#ff7d00 48px,#ff7c00 56px,#ff7c00 64px,#ff7d00 72px,#ff7c00 80px,#ff7c00 88px,#ff7c00 96px,#ff7c00 104px,#ff7c00 112px,#ff7d00 120px,#ff7d00 128px,#ff7d00 136px,#ff7d00 144px,#ff8200 152px,#ff8e00 160px,#ff8f00 161px)"></i>
<i style="top:68px;height:2px;background:linear-gradient(90deg,#ffc400 0px,#ffb300 8px,#ffa400 16px,#ff9500 24px,#ff8500 32px,#ff7700 40px,#ff7400 48px,#ff7400 56px,#ff7400 64px,#ff7400 72px,#ff7400 80px,#ff7400 88px,#ff7400 96px,#ff7400 104px,#ff7400 112px,#ff7400 120px,#ff7500 128px,#ff7500 136px,#ff7500 144px,#ff8100 152px,#ff8e00 160px,#ff8e00 161px)"></i>
<i style="top:70px;height:2px;background:linear-gradient(90deg,#ffc100 0px,#ffaf00 8px,#ffa100 16px,#ff9200 24px,#ff8300 32px,#ff7600 40px,#ff6c00 48px,#ff6b00 56px,#ff6c00 64px,#ff6c00 72px,#ff6b00 80px,#ff6b00 88px,#ff6b00 96px,#ff6b00 104px,#ff6c00 112px,#ff6c00 120px,#ff6c00 128px,#ff6d00 136px,#ff7400 144px,#ff8000 152px,#ff8c00 160px,#ff8c00 161px)"></i>
<i style="top:72px;height:2px;background:linear-gradient(90deg,#ffbc00 0px,#ffae00 8px,#ff9f00 16px,#ff9100 24px,#ff8200 32px,#ff7400 40px,#ff6700 48px,#ff6400 56px,#ff6300 64px,#ff6400 72px,#ff6300 80px,#ff6300 88px,#ff6400 96px,#ff6400 104px,#ff6400 112px,#ff6400 120px,#ff6400 128px,#ff6700 136px,#ff7300 144px,#ff7f00 152px,#ff8c00 160px,#ff8c00 161px)"></i>
<i style="top:74px;height:2px;background:linear-gradient(90deg,#ffbb00 0px,#ffab00 8px,#ff9c00 16px,#ff8e00 24px,#ff8100 32px,#ff7200 40px,#ff6400 48px,#ff5c00 56px,#ff5c00 64px,#ff5c00 72px,#ff5b00 80px,#ff5b00 88px,#ff5b00 96px,#ff5b00 104px,#ff5c00 112px,#ff5c00 120px,#ff5d00 128px,#ff6700 136px,#ff7100 144px,#ff7d00 152px,#ff8900 160px,#ff8a00 161px)"></i>
<i style="top:76px;height:2px;background:linear-gradient(90deg,#ffb800 0px,#ffab00 8px,#ff9900 16px,#ff8e00 24px,#ff7f00 32px,#ff7000 40px,#ff6200 48px,#ff5700 56px,#ff5400 64px,#ff5400 72px,#ff5300 80px,#ff5300 88px,#ff5400 96px,#ff5400 104px,#ff5400 112px,#ff5400 120px,#ff5b00 128px,#ff6500 136px,#ff7000 144px,#ff7c00 152px,#ff8900 160px,#ff8900 161px)"></i>
<i style="top:78px;height:2px;background:linear-gradient(90deg,#ffb500 0px,#ffa900 8px,#ff9900 16px,#ff8900 24px,#ff7c00 32px,#ff6e00 40px,#ff6100 48px,#ff5500 56px,#ff4c00 64px,#ff4c00 72px,#ff4c00 80px,#ff4c00 88px,#ff4c00 96px,#ff4c00 104px,#ff4d00 112px,#ff5000 120px,#ff5a00 128px,#ff6400 136px,#ff6f00 144px,#ff7b00 152px,#ff8700 160px,#ff8900 161px)"></i>
<i style="top:80px;height:2px;background:linear-gradient(90deg,#ffb200 0px,#ffa600 8px,#ff9500 16px,#ff8500 24px,#ff7900 32px,#ff6c00 40px,#ff6100 48px,#ff5400 56px,#ff4800 64px,#ff4400 72px,#ff4400 80px,#ff4400 88px,#ff4400 96px,#ff4500 104px,#ff4600 112px,#ff4f00 120px,#ff5900 128px,#ff6300 136px,#ff6f00 144px,#ff7900 152px,#ff8500 160px,#ff8700 161px)"></i>
<i style="top:82px;height:2px;background:linear-gradient(90deg,#ffaf00 0px,#ffa500 8px,#ff9500 16px,#ff8500 24px,#ff7700 32px,#ff6a00 40px,#ff5f00 48px,#ff5300 56px,#ff4700 64px,#ff3d00 72px,#ff3d00 80px,#ff3d00 88px,#ff3d00 96px,#ff3d00 104px,#ff4600 112px,#ff4f00 120px,#ff5900 128px,#ff6200 136px,#ff6e00 144px,#ff7900 152px,#ff8400 160px,#ff8400 161px)"></i>
<i style="top:84px;height:2px;background:linear-gradient(90deg,#ffae00 0px,#ff9e00 8px,#ff9400 16px,#ff8500 24px,#ff7600 32px,#ff6800 40px,#ff5e00 48px,#ff5100 56px,#ff4600 64px,#ff3c00 72px,#ff3600 80px,#ff3600 88px,#ff3600 96px,#ff3c00 104px,#ff4400 112px,#ff4e00 120px,#ff5800 128px,#ff6200 136px,#ff6c00 144px,#ff7700 152px,#ff8200 160px,#ff8200 161px)"></i>
<i style="top:86px;height:2px;background:linear-gradient(90deg,#ffab00 0px,#ff9e00 8px,#ff9000 16px,#ff8100 24px,#ff7500 32px,#ff6800 40px,#ff5c00 48px,#ff5000 56px,#ff4600 64px,#ff3b00 72px,#ff3200 80px,#ff2f00 88px,#ff3300 96px,#ff3c00 104px,#ff4300 112px,#ff4d00 120px,#ff5700 128px,#ff6000 136px,#ff6b00 144px,#ff7700 152px,#ff8200 160px,#ff8200 161px)"></i>
<i style="top:88px;height:2px;background:linear-gradient(90deg,#ffab00 0px,#ff9c00 8px,#ff8e00 16px,#ff7f00 24px,#ff7500 32px,#ff6500 40px,#ff5a00 48px,#ff4e00 56px,#ff4400 64px,#ff3b00 72px,#ff3100 80px,#ff2c00 88px,#ff3300 96px,#ff3a00 104px,#ff4300 112px,#ff4c00 120px,#ff5500 128px,#ff5f00 136px,#ff6a00 144px,#ff7600 152px,#ff8000 160px,#ff8200 161px)"></i>
</div>
<div class="sf" style="left:74px;top:362px;width:161px;height:58px;clip-path:path('M16.2 23.7L1.6 28.6L11.5 32.7L22.9 37.1L32.9 40.7L44.3 44.6L55.7 48.1L65.7 51.0L77.1 54.0L87.2 56.4L105.4 52.9L123.6 49.0L142.9 44.4L159.9 40.0L148.3 35.7L138.4 31.9L127.1 27.2L117.0 22.7L105.7 17.5L95.6 12.6L85.7 7.5L74.4 1.5L59.9 7.4L45.4 13.1L30.8 18.5Z')">
<i style="top:0px;height:2px;background:linear-gradient(90deg,#650000 0px,#700000 8px,#780000 16px,#840000 24px,#8d0000 32px,#980000 40px,#a30000 48px,#ae0000 56px,#ba0000 64px,#c60000 72px,#bf0000 80px,#b10000 88px,#a30000 96px,#970000 104px,#880000 112px,#7d0000 120px,#710000 128px,#630000 136px,#590000 144px,#4c0000 152px,#410000 160px,#410000 161px)"></i>
<i style="top:2px;height:2px;background:linear-gradient(90deg,#640000 0px,#6f0000 8px,#770000 16px,#820000 24px,#8c0000 32px,#980000 40px,#a20000 48px,#ae0000 56px,#b90000 64px,#c20000 72px,#bd0000 80px,#ae0000 88px,#a10000 96px,#950000 104px,#860000 112px,#7a0000 120px,#6f0000 128px,#630000 136px,#570000 144px,#4c0000 152px,#410000 160px,#410000 161px)"></i>
<i style="top:4px;height:2px;background:linear-gradient(90deg,#630000 0px,#6d0000 8px,#760000 16px,#810000 24px,#8c0000 32px,#960000 40px,#a10000 48px,#ab0000 56px,#b70000 64px,#b90000 72px,#b80000 80px,#ac0000 88px,#a00000 96px,#930000 104px,#850000 112px,#790000 120px,#6c0000 128px,#610000 136px,#560000 144px,#4b0000 152px,#410000 160px,#400000 161px)"></i>
<i style="top:6px;height:2px;background:linear-gradient(90deg,#620000 0px,#6d0000 8px,#760000 16px,#810000 24px,#8a0000 32px,#950000 40px,#a00000 48px,#ab0000 56px,#b10000 64px,#b00000 72px,#b00000 80px,#ab0000 88px,#9e0000 96px,#910000 104px,#840000 112px,#770000 120px,#6c0000 128px,#5f0000 136px,#540000 144px,#4a0000 152px,#3e0000 160px,#3e0000 161px)"></i>
<i style="top:8px;height:2px;background:linear-gradient(90deg,#620000 0px,#6a0000 8px,#740000 16px,#7f0000 24px,#890000 32px,#940000 40px,#9e0000 48px,#a90000 56px,#a80000 64px,#a80000 72px,#a80000 80px,#a80000 88px,#9c0000 96px,#900000 104px,#830000 112px,#760000 120px,#6b0000 128px,#5e0000 136px,#540000 144px,#480000 152px,#3e0000 160px,#3d0000 161px)"></i>
<i style="top:10px;height:2px;background:linear-gradient(90deg,#600000 0px,#6a0000 8px,#740000 16px,#7e0000 24px,#890000 32px,#930000 40px,#9d0000 48px,#a00000 56px,#a00000 64px,#a00000 72px,#a00000 80px,#a00000 88px,#9a0000 96px,#8e0000 104px,#820000 112px,#740000 120px,#690000 128px,#5e0000 136px,#520000 144px,#480000 152px,#3d0000 160px,#3d0000 161px)"></i>
<i style="top:12px;height:2px;background:linear-gradient(90deg,#600000 0px,#690000 8px,#730000 16px,#7e0000 24px,#870000 32px,#920000 40px,#980000 48px,#980000 56px,#980000 64px,#980000 72px,#980000 80px,#970000 88px,#980000 96px,#8c0000 104px,#800000 112px,#740000 120px,#670000 128px,#5c0000 136px,#500000 144px,#470000 152px,#3c0000 160px,#3c0000 161px)"></i>
<i style="top:14px;height:2px;background:linear-gradient(90deg,#600000 0px,#680000 8px,#720000 16px,#7d0000 24px,#860000 32px,#900000 40px,#900000 48px,#900000 56px,#900000 64px,#900000 72px,#900000 80px,#900000 88px,#900000 96px,#8a0000 104px,#7f0000 112px,#730000 120px,#660000 128px,#5b0000 136px,#500000 144px,#450000 152px,#3c0000 160px,#3c0000 161px)"></i>
<i style="top:16px;height:2px;background:linear-gradient(90deg,#5e0000 0px,#670000 8px,#710000 16px,#7b0000 24px,#850000 32px,#870000 40px,#880000 48px,#880000 56px,#880000 64px,#880000 72px,#880000 80px,#880000 88px,#880000 96px,#880000 104px,#7d0000 112px,#710000 120px,#650000 128px,#590000 136px,#4f0000 144px,#450000 152px,#3c0000 160px,#390000 161px)"></i>
<i style="top:18px;height:2px;background:linear-gradient(90deg,#5e0000 0px,#670000 8px,#700000 16px,#7a0000 24px,#800000 32px,#800000 40px,#800000 48px,#7f0000 56px,#7f0000 64px,#800000 72px,#7f0000 80px,#7f0000 88px,#7f0000 96px,#800000 104px,#7c0000 112px,#6f0000 120px,#640000 128px,#590000 136px,#4f0000 144px,#440000 152px,#390000 160px,#390000 161px)"></i>
<i style="top:20px;height:2px;background:linear-gradient(90deg,#5d0000 0px,#660000 8px,#700000 16px,#780000 24px,#780000 32px,#780000 40px,#780000 48px,#780000 56px,#780000 64px,#780000 72px,#780000 80px,#780000 88px,#780000 96px,#780000 104px,#780000 112px,#6e0000 120px,#630000 128px,#580000 136px,#4d0000 144px,#420000 152px,#390000 160px,#370000 161px)"></i>
<i style="top:22px;height:2px;background:linear-gradient(90deg,#5d0000 0px,#650000 8px,#6e0000 16px,#700000 24px,#6f0000 32px,#700000 40px,#700000 48px,#700000 56px,#700000 64px,#700000 72px,#6f0000 80px,#700000 88px,#6f0000 96px,#6f0000 104px,#700000 112px,#6d0000 120px,#610000 128px,#560000 136px,#4c0000 144px,#420000 152px,#370000 160px,#370000 161px)"></i>
<i style="top:24px;height:2px;background:linear-gradient(90deg,#5c0000 0px,#640000 8px,#680000 16px,#680000 24px,#680000 32px,#680000 40px,#680000 48px,#680000 56px,#680000 64px,#680000 72px,#680000 80px,#680000 88px,#680000 96px,#680000 104px,#680000 112px,#680000 120px,#600000 128px,#560000 136px,#4b0000 144px,#400000 152px,#370000 160px,#370000 161px)"></i>
<i style="top:26px;height:2px;background:linear-gradient(90deg,#5c0000 0px,#600000 8px,#610000 16px,#600000 24px,#600000 32px,#600000 40px,#600000 48px,#600000 56px,#600000 64px,#600000 72px,#600000 80px,#600000 88px,#600000 96px,#600000 104px,#600000 112px,#600000 120px,#5f0000 128px,#540000 136px,#490000 144px,#3f0000 152px,#360000 160px,#360000 161px)"></i>
<i style="top:28px;height:2px;background:linear-gradient(90deg,#5b0000 0px,#580000 8px,#580000 16px,#580000 24px,#580000 32px,#580000 40px,#590000 48px,#590000 56px,#590000 64px,#590000 72px,#580000 80px,#580000 88px,#580000 96px,#590000 104px,#590000 112px,#590000 120px,#590000 128px,#530000 136px,#480000 144px,#3e0000 152px,#360000 160px,#360000 161px)"></i>
<i style="top:30px;height:2px;background:linear-gradient(90deg,#5b0000 0px,#520000 8px,#510000 16px,#510000 24px,#510000 32px,#510000 40px,#510000 48px,#510000 56px,#510000 64px,#510000 72px,#510000 80px,#510000 88px,#510000 96px,#510000 104px,#510000 112px,#510000 120px,#510000 128px,#510000 136px,#480000 144px,#3e0000 152px,#360000 160px,#350000 161px)"></i>
<i style="top:32px;height:2px;background:linear-gradient(90deg,#5a0000 0px,#510000 8px,#490000 16px,#4a0000 24px,#4a0000 32px,#490000 40px,#490000 48px,#4a0000 56px,#4a0000 64px,#4a0000 72px,#490000 80px,#4a0000 88px,#4a0000 96px,#4a0000 104px,#4a0000 112px,#490000 120px,#490000 128px,#490000 136px,#470000 144px,#3e0000 152px,#350000 160px,#330000 161px)"></i>
<i style="top:34px;height:2px;background:linear-gradient(90deg,#590000 0px,#4f0000 8px,#450000 16px,#420000 24px,#420000 32px,#420000 40px,#420000 48px,#420000 56px,#420000 64px,#420000 72px,#420000 80px,#420000 88px,#420000 96px,#420000 104px,#420000 112px,#420000 120px,#420000 128px,#420000 136px,#420000 144px,#3b0000 152px,#330000 160px,#320000 161px)"></i>
<i style="top:36px;height:2px;background:linear-gradient(90deg,#580000 0px,#4f0000 8px,#440000 16px,#3b0000 24px,#3b0000 32px,#3b0000 40px,#3b0000 48px,#3b0000 56px,#3b0000 64px,#3b0000 72px,#3b0000 80px,#3b0000 88px,#3b0000 96px,#3b0000 104px,#3b0000 112px,#3b0000 120px,#3b0000 128px,#3b0000 136px,#3b0000 144px,#3b0000 152px,#320000 160px,#320000 161px)"></i>
<i style="top:38px;height:2px;background:linear-gradient(90deg,#570000 0px,#4d0000 8px,#440000 16px,#390000 24px,#340000 32px,#340000 40px,#340000 48px,#340000 56px,#340000 64px,#340000 72px,#330000 80px,#340000 88px,#330000 96px,#340000 104px,#340000 112px,#340000 120px,#340000 128px,#340000 136px,#340000 144px,#340000 152px,#320000 160px,#320000 161px)"></i>
<i style="top:40px;height:2px;background:linear-gradient(90deg,#550000 0px,#4c0000 8px,#420000 16px,#390000 24px,#300000 32px,#2d0000 40px,#2d0000 48px,#2d0000 56px,#2d0000 64px,#2c0000 72px,#2d0000 80px,#2d0000 88px,#2d0000 96px,#2d0000 104px,#2d0000 112px,#2d0000 120px,#2d0000 128px,#2d0000 136px,#2d0000 144px,#2d0000 152px,#320000 160px,#320000 161px)"></i>
<i style="top:42px;height:2px;background:linear-gradient(90deg,#540000 0px,#4b0000 8px,#420000 16px,#370000 24px,#2f0000 32px,#270000 40px,#260000 48px,#260000 56px,#260000 64px,#260000 72px,#260000 80px,#260000 88px,#260000 96px,#260000 104px,#260000 112px,#260000 120px,#260000 128px,#260000 136px,#260000 144px,#2b0000 152px,#310000 160px,#310000 161px)"></i>
<i style="top:44px;height:2px;background:linear-gradient(90deg,#540000 0px,#4a0000 8px,#410000 16px,#370000 24px,#2e0000 32px,#260000 40px,#1f0000 48px,#1f0000 56px,#1f0000 64px,#1f0000 72px,#1f0000 80px,#1f0000 88px,#1f0000 96px,#200000 104px,#200000 112px,#1f0000 120px,#1f0000 128px,#1f0000 136px,#240000 144px,#2a0000 152px,#310000 160px,#310000 161px)"></i>
<i style="top:46px;height:2px;background:linear-gradient(90deg,#520000 0px,#490000 8px,#3f0000 16px,#370000 24px,#2e0000 32px,#250000 40px,#1e0000 48px,#190000 56px,#190000 64px,#190000 72px,#190000 80px,#190000 88px,#190000 96px,#190000 104px,#190000 112px,#190000 120px,#190000 128px,#1d0000 136px,#230000 144px,#2a0000 152px,#310000 160px,#310000 161px)"></i>
<i style="top:48px;height:2px;background:linear-gradient(90deg,#520000 0px,#470000 8px,#3e0000 16px,#360000 24px,#2c0000 32px,#250000 40px,#1e0000 48px,#160000 56px,#120000 64px,#120000 72px,#130000 80px,#130000 88px,#130000 96px,#130000 104px,#130000 112px,#130000 120px,#170000 128px,#1d0000 136px,#230000 144px,#2a0000 152px,#300000 160px,#300000 161px)"></i>
<i style="top:50px;height:2px;background:linear-gradient(90deg,#520000 0px,#470000 8px,#3d0000 16px,#350000 24px,#2c0000 32px,#240000 40px,#1c0000 48px,#160000 56px,#0f0000 64px,#0d0000 72px,#0d0000 80px,#0d0000 88px,#0d0000 96px,#0d0000 104px,#0d0000 112px,#120000 120px,#170000 128px,#1d0000 136px,#230000 144px,#290000 152px,#2f0000 160px,#300000 161px)"></i>
<i style="top:52px;height:2px;background:linear-gradient(90deg,#4f0000 0px,#460000 8px,#3c0000 16px,#350000 24px,#2b0000 32px,#240000 40px,#1c0000 48px,#150000 56px,#0f0000 64px,#090000 72px,#070000 80px,#070000 88px,#070000 96px,#080000 104px,#0d0000 112px,#120000 120px,#170000 128px,#1d0000 136px,#220000 144px,#280000 152px,#2f0000 160px,#2f0000 161px)"></i>
<i style="top:54px;height:2px;background:linear-gradient(90deg,#4f0000 0px,#450000 8px,#3c0000 16px,#330000 24px,#2a0000 32px,#230000 40px,#1b0000 48px,#150000 56px,#0f0000 64px,#090000 72px,#040000 80px,#020000 88px,#040000 96px,#080000 104px,#0d0000 112px,#110000 120px,#160000 128px,#1d0000 136px,#220000 144px,#280000 152px,#2e0000 160px,#2f0000 161px)"></i>
<i style="top:56px;height:2px;background:linear-gradient(90deg,#4f0000 0px,#450000 8px,#3c0000 16px,#330000 24px,#290000 32px,#230000 40px,#1b0000 48px,#140000 56px,#0e0000 64px,#090000 72px,#040000 80px,#000000 88px,#040000 96px,#080000 104px,#0c0000 112px,#110000 120px,#160000 128px,#1b0000 136px,#210000 144px,#280000 152px,#2e0000 160px,#2e0000 161px)"></i>
</div>
<div class="sf" style="left:382px;top:328px;width:168px;height:38px;clip-path:path('M16.8 13.7L7.4 16.8L1.3 19.0L9.1 21.5L16.9 23.6L24.7 25.6L32.7 27.3L40.5 28.8L48.3 30.2L56.1 31.3L65.5 32.4L79.7 33.6L95.5 34.4L108.8 34.2L120.6 34.2L132.5 34.3L143.1 34.7L157.4 35.6L162.2 36.0L166.9 36.7L152.7 33.7L139.9 30.5L127.4 26.7L116.6 22.9L105.5 18.4L94.6 13.5L83.5 7.8L72.6 1.5L69.2 1.5L63.1 2.1L57.2 3.0L50.1 4.4L42.9 6.1L34.7 8.3L26.3 10.7Z')">
<i style="top:0px;height:1px;background:linear-gradient(90deg,#ffae00 0px,#ffce00 8px,#ffef00 16px,#ffff0f 24px,#ffff3e 32px,#ffff66 40px,#ffff91 48px,#ffffb8 56px,#ffffdf 64px,#fffffa 72px,#ffffcb 80px,#ffff91 88px,#ffff5b 96px,#ffff2a 104px,#fff300 112px,#ffce00 120px,#ffa500 128px,#ff8900 136px,#ff6100 144px,#ff4100 152px,#ff1c00 160px,#ff0100 168px)"></i>
<i style="top:1px;height:1px;background:linear-gradient(90deg,#ffae00 0px,#ffca00 8px,#ffea00 16px,#ffff0e 24px,#ffff3e 32px,#ffff66 40px,#ffff8f 48px,#ffffb5 56px,#ffffdd 64px,#fffff7 72px,#ffffc6 80px,#ffff8f 88px,#ffff53 96px,#ffff21 104px,#fff300 112px,#ffc900 120px,#ffa500 128px,#ff8900 136px,#ff6100 144px,#ff4100 152px,#ff1c00 160px,#ff0100 168px)"></i>
<i style="top:2px;height:1px;background:linear-gradient(90deg,#ffae00 0px,#ffca00 8px,#ffea00 16px,#ffff0e 24px,#ffff39 32px,#ffff66 40px,#ffff8f 48px,#ffffb3 56px,#ffffce 64px,#ffffe0 72px,#ffffc6 80px,#ffff89 88px,#ffff53 96px,#ffff21 104px,#fff300 112px,#ffc900 120px,#ffa500 128px,#ff8500 136px,#ff6100 144px,#ff4100 152px,#ff1c00 160px,#f90000 168px)"></i>
<i style="top:3px;height:1px;background:linear-gradient(90deg,#ffad00 0px,#ffc900 8px,#ffea00 16px,#ffff0e 24px,#ffff36 32px,#ffff63 40px,#ffff8f 48px,#ffffac 56px,#ffffb9 64px,#ffffcb 72px,#ffffbd 80px,#ffff89 88px,#ffff53 96px,#ffff21 104px,#ffec00 112px,#ffc500 120px,#ffa300 128px,#ff8200 136px,#ff5c00 144px,#ff4100 152px,#ff1c00 160px,#f90000 168px)"></i>
<i style="top:4px;height:1px;background:linear-gradient(90deg,#ffad00 0px,#ffc900 8px,#ffe700 16px,#ffff0c 24px,#ffff36 32px,#ffff63 40px,#ffff8d 48px,#ffff99 56px,#ffffa8 64px,#ffffb7 72px,#ffffbb 80px,#ffff87 88px,#ffff4c 96px,#ffff19 104px,#ffe900 112px,#ffc500 120px,#ffa300 128px,#ff8200 136px,#ff5c00 144px,#ff3c00 152px,#ff1c00 160px,#f90000 168px)"></i>
<i style="top:5px;height:1px;background:linear-gradient(90deg,#ffa800 0px,#ffc900 8px,#ffe700 16px,#ffff09 24px,#ffff36 32px,#ffff60 40px,#ffff7c 48px,#ffff86 56px,#ffff93 64px,#ffffa3 72px,#ffffb6 80px,#ffff80 88px,#ffff4a 96px,#ffff19 104px,#ffe900 112px,#ffc500 120px,#ffa000 128px,#ff8200 136px,#ff5c00 144px,#ff3c00 152px,#ff1600 160px,#f90000 168px)"></i>
<i style="top:6px;height:1px;background:linear-gradient(90deg,#ffa800 0px,#ffc600 8px,#ffe700 16px,#ffff04 24px,#ffff34 32px,#ffff5f 40px,#ffff6a 48px,#ffff74 56px,#ffff80 64px,#ffff8f 72px,#ffffa3 80px,#ffff80 88px,#ffff46 96px,#ffff14 104px,#ffe600 112px,#ffc500 120px,#ffa000 128px,#ff7e00 136px,#ff5900 144px,#ff3700 152px,#ff1600 160px,#f90000 168px)"></i>
<i style="top:7px;height:1px;background:linear-gradient(90deg,#ffa800 0px,#ffc600 8px,#ffe300 16px,#ffff04 24px,#ffff32 32px,#ffff4d 40px,#ffff56 48px,#ffff61 56px,#ffff6c 64px,#ffff7c 72px,#ffff8d 80px,#ffff79 88px,#ffff42 96px,#ffff10 104px,#ffe400 112px,#ffc000 120px,#ff9e00 128px,#ff7e00 136px,#ff5900 144px,#ff3700 152px,#ff1600 160px,#f90000 168px)"></i>
<i style="top:8px;height:1px;background:linear-gradient(90deg,#ffa500 0px,#ffc600 8px,#ffe300 16px,#ffff02 24px,#ffff31 32px,#ffff39 40px,#ffff41 48px,#ffff4c 56px,#ffff58 64px,#ffff67 72px,#ffff79 80px,#ffff75 88px,#ffff3c 96px,#ffff0b 104px,#ffe300 112px,#ffc000 120px,#ff9e00 128px,#ff7e00 136px,#ff5900 144px,#ff3400 152px,#ff1600 160px,#f90000 168px)"></i>
<i style="top:9px;height:1px;background:linear-gradient(90deg,#ffa500 0px,#ffc200 8px,#ffe000 16px,#ffff02 24px,#ffff23 32px,#ffff29 40px,#ffff31 48px,#ffff39 56px,#ffff44 64px,#ffff52 72px,#ffff63 80px,#ffff6e 88px,#ffff3b 96px,#ffff08 104px,#ffe000 112px,#ffbd00 120px,#ff9900 128px,#ff7c00 136px,#ff5900 144px,#ff3400 152px,#ff1600 160px,#f70000 168px)"></i>
<i style="top:10px;height:1px;background:linear-gradient(90deg,#ffa100 0px,#ffc000 8px,#ffde00 16px,#fffd00 24px,#ffff0f 32px,#ffff15 40px,#ffff1c 48px,#ffff25 56px,#ffff30 64px,#ffff3e 72px,#ffff4e 80px,#ffff66 88px,#ffff37 96px,#ffff00 104px,#ffe000 112px,#ffbd00 120px,#ff9900 128px,#ff7700 136px,#ff5300 144px,#ff3400 152px,#ff1600 160px,#f70000 168px)"></i>
<i style="top:11px;height:1px;background:linear-gradient(90deg,#ffa100 0px,#ffc000 8px,#ffde00 16px,#fff800 24px,#fffb00 32px,#fffe00 40px,#ffff06 48px,#ffff11 56px,#ffff1c 64px,#ffff29 72px,#ffff37 80px,#ffff4a 88px,#ffff35 96px,#ffff00 104px,#ffdb00 112px,#ffbd00 120px,#ff9900 128px,#ff7700 136px,#ff5300 144px,#ff3400 152px,#ff1600 160px,#f70000 168px)"></i>
<i style="top:12px;height:1px;background:linear-gradient(90deg,#ff9e00 0px,#ffbd00 8px,#ffdb00 16px,#ffec00 24px,#ffed00 32px,#fff300 40px,#fff700 48px,#fffd00 56px,#ffff09 64px,#ffff14 72px,#ffff23 80px,#ffff38 88px,#ffff31 96px,#fffc00 104px,#ffdb00 112px,#ffb800 120px,#ff9700 128px,#ff7700 136px,#ff5300 144px,#ff3400 152px,#ff1300 160px,#f70000 168px)"></i>
<i style="top:13px;height:1px;background:linear-gradient(90deg,#ff9e00 0px,#ffbd00 8px,#ffdb00 16px,#ffdf00 24px,#ffe200 32px,#ffe500 40px,#ffe900 48px,#ffef00 56px,#fff600 64px,#fffe00 72px,#ffff0b 80px,#ffff20 88px,#ffff2f 96px,#fffb00 104px,#ffd600 112px,#ffb800 120px,#ff9700 128px,#ff7700 136px,#ff5000 144px,#ff3400 152px,#ff1300 160px,#f70000 168px)"></i>
<i style="top:14px;height:1px;background:linear-gradient(90deg,#ff9d00 0px,#ffb900 8px,#ffd000 16px,#ffd200 24px,#ffd500 32px,#ffd600 40px,#ffde00 48px,#ffe200 56px,#ffe800 64px,#fff100 72px,#fffb00 80px,#ffff0a 88px,#ffff20 96px,#fff800 104px,#ffd600 112px,#ffb400 120px,#ff9300 128px,#ff7500 136px,#ff5000 144px,#ff2f00 152px,#ff1300 160px,#f20000 168px)"></i>
<i style="top:15px;height:1px;background:linear-gradient(90deg,#ff9d00 0px,#ffb700 8px,#ffc200 16px,#ffc600 24px,#ffc700 32px,#ffcb00 40px,#ffd000 48px,#ffd400 56px,#ffda00 64px,#ffe200 72px,#ffec00 80px,#fff500 88px,#ffff06 96px,#fff800 104px,#ffd300 112px,#ffb300 120px,#ff9300 128px,#ff6f00 136px,#ff5000 144px,#ff2f00 152px,#ff1100 160px,#f20000 168px)"></i>
<i style="top:16px;height:1px;background:linear-gradient(90deg,#ff9d00 0px,#ffb400 8px,#ffb700 16px,#ffb700 24px,#ffba00 32px,#ffbd00 40px,#ffc200 48px,#ffc500 56px,#ffcc00 64px,#ffd400 72px,#ffda00 80px,#ffe600 88px,#fff300 96px,#fff600 104px,#ffd300 112px,#ffb200 120px,#ff9300 128px,#ff6f00 136px,#ff5000 144px,#ff2f00 152px,#ff0d00 160px,#f20000 168px)"></i>
<i style="top:17px;height:1px;background:linear-gradient(90deg,#ff9b00 0px,#ffa800 8px,#ffa900 16px,#ffaa00 24px,#ffab00 32px,#ffae00 40px,#ffb200 48px,#ffb700 56px,#ffbe00 64px,#ffc400 72px,#ffce00 80px,#ffd800 88px,#ffe300 96px,#fff300 104px,#ffd000 112px,#ffb000 120px,#ff8f00 128px,#ff6f00 136px,#ff4e00 144px,#ff2f00 152px,#ff0d00 160px,#f20000 168px)"></i>
<i style="top:18px;height:1px;background:linear-gradient(90deg,#ff9b00 0px,#ff9a00 8px,#ff9a00 16px,#ff9c00 24px,#ff9e00 32px,#ffa200 40px,#ffa300 48px,#ffa800 56px,#ffae00 64px,#ffb500 72px,#ffbd00 80px,#ffc700 88px,#ffd300 96px,#ffe300 104px,#ffd000 112px,#ffb000 120px,#ff8f00 128px,#ff6d00 136px,#ff4e00 144px,#ff2c00 152px,#ff0900 160px,#f20000 168px)"></i>
<i style="top:19px;height:1px;background:linear-gradient(90deg,#ff9900 0px,#ff8f00 8px,#ff8f00 16px,#ff8e00 24px,#ff9100 32px,#ff9400 40px,#ff9700 48px,#ff9a00 56px,#ff9f00 64px,#ffa400 72px,#ffae00 80px,#ffb600 88px,#ffc200 96px,#ffd100 104px,#ffcc00 112px,#ffac00 120px,#ff8f00 128px,#ff6b00 136px,#ff4c00 144px,#ff2c00 152px,#ff0900 160px,#f20000 168px)"></i>
<i style="top:20px;height:1px;background:linear-gradient(90deg,#ff9700 0px,#ff8100 8px,#ff8100 16px,#ff8000 24px,#ff8100 32px,#ff8200 40px,#ff8800 48px,#ff8b00 56px,#ff9000 64px,#ff9700 72px,#ff9f00 80px,#ffa800 88px,#ffb100 96px,#ffc000 104px,#ffcb00 112px,#ffa800 120px,#ff8c00 128px,#ff6b00 136px,#ff4c00 144px,#ff2c00 152px,#ff0900 160px,#f20000 168px)"></i>
<i style="top:21px;height:1px;background:linear-gradient(90deg,#ff9700 0px,#ff7e00 8px,#ff7200 16px,#ff7200 24px,#ff7300 32px,#ff7600 40px,#ff7700 48px,#ff7b00 56px,#ff8000 64px,#ff8600 72px,#ff8e00 80px,#ff9800 88px,#ffa000 96px,#ffae00 104px,#ffc000 112px,#ffa800 120px,#ff8c00 128px,#ff6800 136px,#ff4700 144px,#ff2600 152px,#ff0900 160px,#f20000 168px)"></i>
<i style="top:22px;height:1px;background:linear-gradient(90deg,#ff9500 0px,#ff7c00 8px,#ff6300 16px,#ff6500 24px,#ff6300 32px,#ff6700 40px,#ff6800 48px,#ff6c00 56px,#ff7000 64px,#ff7500 72px,#ff7d00 80px,#ff8700 88px,#ff9000 96px,#ff9c00 104px,#ffac00 112px,#ffa600 120px,#ff8800 128px,#ff6400 136px,#ff4700 144px,#ff2600 152px,#ff0900 160px,#f20000 168px)"></i>
<i style="top:23px;height:1px;background:linear-gradient(90deg,#ff9500 0px,#ff7b00 8px,#ff5c00 16px,#ff5500 24px,#ff5400 32px,#ff5500 40px,#ff5800 48px,#ff5b00 56px,#ff6000 64px,#ff6700 72px,#ff6e00 80px,#ff7300 88px,#ff7e00 96px,#ff8a00 104px,#ff9900 112px,#ffa200 120px,#ff8600 128px,#ff6200 136px,#ff4700 144px,#ff2600 152px,#ff0900 160px,#f20000 168px)"></i>
<i style="top:24px;height:1px;background:linear-gradient(90deg,#ff9500 0px,#ff7b00 8px,#ff5b00 16px,#ff4600 24px,#ff4700 32px,#ff4700 40px,#ff4a00 48px,#ff4b00 56px,#ff4f00 64px,#ff5500 72px,#ff5a00 80px,#ff6100 88px,#ff6c00 96px,#ff7700 104px,#ff8500 112px,#ff9900 120px,#ff8600 128px,#ff6200 136px,#ff4700 144px,#ff2300 152px,#ff0400 160px,#f20000 168px)"></i>
<i style="top:25px;height:1px;background:linear-gradient(90deg,#ff9500 0px,#ff7a00 8px,#ff5a00 16px,#ff3e00 24px,#ff3700 32px,#ff3700 40px,#ff3800 48px,#ff3a00 56px,#ff3e00 64px,#ff4400 72px,#ff4a00 80px,#ff5000 88px,#ff5900 96px,#ff6400 104px,#ff7300 112px,#ff8500 120px,#ff8100 128px,#ff6200 136px,#ff4700 144px,#ff2300 152px,#ff0400 160px,#f20000 168px)"></i>
<i style="top:26px;height:1px;background:linear-gradient(90deg,#ff9300 0px,#ff7600 8px,#ff5a00 16px,#ff3d00 24px,#ff2600 32px,#ff2700 40px,#ff2800 48px,#ff2800 56px,#ff2b00 64px,#ff3000 72px,#ff3500 80px,#ff3b00 88px,#ff4700 96px,#ff5200 104px,#ff5e00 112px,#ff6e00 120px,#ff8100 128px,#ff6200 136px,#ff4400 144px,#ff2300 152px,#ff0400 160px,#f00000 168px)"></i>
<i style="top:27px;height:1px;background:linear-gradient(90deg,#ff9000 0px,#ff7400 8px,#ff5800 16px,#ff3b00 24px,#ff2200 32px,#ff1300 40px,#ff1400 48px,#ff1600 56px,#ff1900 64px,#ff1b00 72px,#ff2200 80px,#ff2a00 88px,#ff3300 96px,#ff3a00 104px,#ff4a00 112px,#ff5a00 120px,#ff6b00 128px,#ff5d00 136px,#ff4300 144px,#ff2300 152px,#ff0100 160px,#f00000 168px)"></i>
<i style="top:28px;height:1px;background:linear-gradient(90deg,#ff9000 0px,#ff7300 8px,#ff5800 16px,#ff3b00 24px,#ff2000 32px,#ff0700 40px,#ff0200 48px,#ff0300 56px,#ff0500 64px,#ff0800 72px,#ff0d00 80px,#ff1500 88px,#ff1c00 96px,#ff2600 104px,#ff3200 112px,#ff4100 120px,#ff5400 128px,#ff5c00 136px,#ff3c00 144px,#ff1d00 152px,#ff0100 160px,#f00000 168px)"></i>
<i style="top:29px;height:1px;background:linear-gradient(90deg,#ff9000 0px,#ff7300 8px,#ff5800 16px,#ff3900 24px,#ff2000 32px,#ff0700 40px,#ef0000 48px,#ee0000 56px,#ef0000 64px,#f00000 72px,#f70000 80px,#fe0000 88px,#ff0500 96px,#ff0c00 104px,#ff1a00 112px,#ff2700 120px,#ff3b00 128px,#ff5500 136px,#ff3a00 144px,#ff1b00 152px,#ff0100 160px,#f10000 168px)"></i>
<i style="top:30px;height:1px;background:linear-gradient(90deg,#ff9000 0px,#ff7300 8px,#ff5800 16px,#ff3900 24px,#ff2000 32px,#ff0500 40px,#ec0000 48px,#e70000 56px,#e70000 64px,#e70000 72px,#e70000 80px,#e70000 88px,#e90000 96px,#f40000 104px,#ff0300 112px,#ff1200 120px,#ff2200 128px,#ff3600 136px,#ff3a00 144px,#ff1b00 152px,#ff0100 160px,#f10000 168px)"></i>
<i style="top:31px;height:1px;background:linear-gradient(90deg,#ff8d00 0px,#ff7300 8px,#ff5600 16px,#ff3900 24px,#ff1f00 32px,#ff0500 40px,#ea0000 48px,#e70000 56px,#e70000 64px,#e70000 72px,#e70000 80px,#e70000 88px,#e70000 96px,#e70000 104px,#e70000 112px,#f40000 120px,#ff0400 128px,#ff1700 136px,#ff3400 144px,#ff1700 152px,#ff0000 160px,#f10000 168px)"></i>
<i style="top:32px;height:1px;background:linear-gradient(90deg,#ff8d00 0px,#ff7300 8px,#ff5600 16px,#ff3900 24px,#ff1f00 32px,#ff0300 40px,#ea0000 48px,#e70000 56px,#e70000 64px,#e70000 72px,#e70000 80px,#e70000 88px,#e70000 96px,#e70000 104px,#e70000 112px,#e70000 120px,#e70000 128px,#fb0000 136px,#ff1700 144px,#ff1700 152px,#fa0000 160px,#f10000 168px)"></i>
<i style="top:33px;height:1px;background:linear-gradient(90deg,#ff8d00 0px,#ff7000 8px,#ff5600 16px,#ff3800 24px,#ff1c00 32px,#ff0300 40px,#ea0000 48px,#e70000 56px,#e70000 64px,#e70000 72px,#e70000 80px,#e70000 88px,#e70000 96px,#e70000 104px,#e70000 112px,#e70000 120px,#e70000 128px,#e70000 136px,#ed0000 144px,#ff0f00 152px,#fa0000 160px,#f10000 168px)"></i>
<i style="top:34px;height:1px;background:linear-gradient(90deg,#ff8b00 0px,#ff7000 8px,#ff5300 16px,#ff3800 24px,#ff1c00 32px,#ff0300 40px,#ea0000 48px,#e70000 56px,#e70000 64px,#e70000 72px,#e70000 80px,#e70000 88px,#e70000 96px,#e70000 104px,#e70000 112px,#e70000 120px,#e70000 128px,#e70000 136px,#e70000 144px,#e70000 152px,#f80000 160px,#f10000 168px)"></i>
<i style="top:35px;height:1px;background:linear-gradient(90deg,#ff8900 0px,#ff6d00 8px,#ff5300 16px,#ff3800 24px,#ff1c00 32px,#ff0100 40px,#ea0000 48px,#e70000 56px,#e70000 64px,#e70000 72px,#e70000 80px,#e70000 88px,#e70000 96px,#e70000 104px,#e70000 112px,#e70000 120px,#e70000 128px,#e70000 136px,#e70000 144px,#e70000 152px,#ec0000 160px,#f10000 168px)"></i>
<i style="top:36px;height:1px;background:linear-gradient(90deg,#ff8400 0px,#ff6a00 8px,#ff5000 16px,#ff3800 24px,#ff1900 32px,#ff0100 40px,#ea0000 48px,#e70000 56px,#e70000 64px,#e70000 72px,#e70000 80px,#e70000 88px,#e70000 96px,#e70000 104px,#e70000 112px,#e70000 120px,#e70000 128px,#e70000 136px,#e70000 144px,#e70000 152px,#e90000 160px,#f10000 168px)"></i>
<i style="top:37px;height:1px;background:linear-gradient(90deg,#ff8400 0px,#ff6a00 8px,#ff4e00 16px,#ff3600 24px,#ff1900 32px,#ff0100 40px,#ea0000 48px,#e70000 56px,#e70000 64px,#e70000 72px,#e70000 80px,#e70000 88px,#e70000 96px,#e70000 104px,#e70000 112px,#e70000 120px,#e70000 128px,#e70000 136px,#e70000 144px,#e70000 152px,#e90000 160px,#f10000 168px)"></i>
</div>
<div class="sf" style="left:382px;top:363px;width:168px;height:21px;clip-path:path('M16.8 5.5L1.3 8.1L13.8 9.9L28.0 11.7L40.5 12.9L53.0 13.9L67.2 14.6L92.9 15.4L113.0 16.2L166.9 19.0L152.7 18.0L141.6 17.0L129.1 15.3L118.0 13.5L107.1 11.3L96.0 8.6L86.6 6.0L78.8 3.5L72.6 1.4L71.6 1.2L68.0 1.0L62.1 1.0L56.0 1.3L48.8 1.7L33.5 3.3Z')">
<i style="top:0px;height:1px;background:linear-gradient(90deg,#f60000 0px,#ff0d00 8px,#ff2700 16px,#ff3f00 24px,#ff5700 32px,#ff6b00 40px,#ff8000 48px,#ff9300 56px,#ffa000 64px,#ffb400 72px,#ff9900 80px,#ff7700 88px,#ff5700 96px,#ff3c00 104px,#ff2100 112px,#ff0700 120px,#e50000 128px,#c60000 136px,#ae0000 144px,#8d0000 152px,#690000 160px,#780000 168px)"></i>
<i style="top:1px;height:1px;background:linear-gradient(90deg,#f60000 0px,#ff0b00 8px,#ff2500 16px,#ff3f00 24px,#ff5400 32px,#ff6900 40px,#ff7f00 48px,#ff8c00 56px,#ff9900 64px,#ffad00 72px,#ff9500 80px,#ff7500 88px,#ff5700 96px,#ff3c00 104px,#ff1d00 112px,#ff0100 120px,#e50000 128px,#c60000 136px,#a70000 144px,#8d0000 152px,#690000 160px,#780000 168px)"></i>
<i style="top:2px;height:1px;background:linear-gradient(90deg,#f60000 0px,#ff0b00 8px,#ff2500 16px,#ff3d00 24px,#ff5200 32px,#ff6500 40px,#ff6f00 48px,#ff7800 56px,#ff8400 64px,#ff9400 72px,#ff9000 80px,#ff7500 88px,#ff5700 96px,#ff3900 104px,#ff1d00 112px,#ff0100 120px,#e50000 128px,#c60000 136px,#a70000 144px,#8d0000 152px,#6b0000 160px,#780000 168px)"></i>
<i style="top:3px;height:1px;background:linear-gradient(90deg,#f60000 0px,#ff0b00 8px,#ff2200 16px,#ff3d00 24px,#ff4d00 32px,#ff5400 40px,#ff5e00 48px,#ff6900 56px,#ff7500 64px,#ff8400 72px,#ff8e00 80px,#ff7500 88px,#ff5300 96px,#ff3900 104px,#ff1c00 112px,#ff0100 120px,#e50000 128px,#c60000 136px,#a70000 144px,#8d0000 152px,#6b0000 160px,#780000 168px)"></i>
<i style="top:4px;height:1px;background:linear-gradient(90deg,#f60000 0px,#ff0b00 8px,#ff2200 16px,#ff3600 24px,#ff3c00 32px,#ff4200 40px,#ff4a00 48px,#ff5400 56px,#ff6000 64px,#ff6d00 72px,#ff7e00 80px,#ff7100 88px,#ff5200 96px,#ff3900 104px,#ff1c00 112px,#ff0100 120px,#e50000 128px,#c40000 136px,#a70000 144px,#8d0000 152px,#6b0000 160px,#780000 168px)"></i>
<i style="top:5px;height:1px;background:linear-gradient(90deg,#f50000 0px,#ff0b00 8px,#ff1e00 16px,#ff2300 24px,#ff2a00 32px,#ff3000 40px,#ff3500 48px,#ff3f00 56px,#ff4a00 64px,#ff5900 72px,#ff6b00 80px,#ff6f00 88px,#ff5200 96px,#ff3900 104px,#ff1c00 112px,#fd0000 120px,#e50000 128px,#c40000 136px,#a20000 144px,#8d0000 152px,#6b0000 160px,#780000 168px)"></i>
<i style="top:6px;height:1px;background:linear-gradient(90deg,#f50000 0px,#ff0900 8px,#ff0c00 16px,#ff1000 24px,#ff1400 32px,#ff1b00 40px,#ff2300 48px,#ff2c00 56px,#ff3700 64px,#ff4400 72px,#ff5600 80px,#ff6800 88px,#ff4f00 96px,#ff3100 104px,#ff1a00 112px,#fd0000 120px,#e20000 128px,#c40000 136px,#a20000 144px,#8d0000 152px,#6d0000 160px,#780000 168px)"></i>
<i style="top:7px;height:1px;background:linear-gradient(90deg,#f50000 0px,#f80000 8px,#f60000 16px,#fb0000 24px,#ff0000 32px,#ff0600 40px,#ff0d00 48px,#ff1700 56px,#ff1f00 64px,#ff2c00 72px,#ff3b00 80px,#ff5100 88px,#ff4f00 96px,#ff3100 104px,#ff1a00 112px,#fd0000 120px,#e20000 128px,#c40000 136px,#a20000 144px,#8d0000 152px,#6d0000 160px,#780000 168px)"></i>
<i style="top:8px;height:1px;background:linear-gradient(90deg,#f40000 0px,#e30000 8px,#e40000 16px,#e70000 24px,#e90000 32px,#ef0000 40px,#f80000 48px,#ff0200 56px,#ff0c00 64px,#ff1900 72px,#ff2700 80px,#ff3600 88px,#ff4900 96px,#ff2f00 104px,#ff1900 112px,#f90000 120px,#e20000 128px,#be0000 136px,#a20000 144px,#8d0000 152px,#6d0000 160px,#780000 168px)"></i>
<i style="top:9px;height:1px;background:linear-gradient(90deg,#f40000 0px,#df0000 8px,#cd0000 16px,#cd0000 24px,#d10000 32px,#d70000 40px,#de0000 48px,#e70000 56px,#f20000 64px,#fe0000 72px,#ff0f00 80px,#ff1c00 88px,#ff2d00 96px,#ff2f00 104px,#ff1600 112px,#f90000 120px,#df0000 128px,#be0000 136px,#980000 144px,#8d0000 152px,#6e0000 160px,#780000 168px)"></i>
<i style="top:10px;height:1px;background:linear-gradient(90deg,#f40000 0px,#de0000 8px,#c70000 16px,#b60000 24px,#b80000 32px,#bd0000 40px,#c20000 48px,#cd0000 56px,#d90000 64px,#e50000 72px,#ee0000 80px,#fe0000 88px,#ff1300 96px,#ff2900 104px,#ff1600 112px,#f90000 120px,#df0000 128px,#be0000 136px,#980000 144px,#8d0000 152px,#6e0000 160px,#780000 168px)"></i>
<i style="top:11px;height:1px;background:linear-gradient(90deg,#f20000 0px,#de0000 8px,#c70000 16px,#b00000 24px,#9d0000 32px,#9f0000 40px,#a90000 48px,#af0000 56px,#b90000 64px,#c60000 72px,#d60000 80px,#e00000 88px,#f20000 96px,#ff0800 104px,#ff1300 112px,#f90000 120px,#da0000 128px,#be0000 136px,#980000 144px,#850000 152px,#6e0000 160px,#790000 168px)"></i>
<i style="top:12px;height:1px;background:linear-gradient(90deg,#f20000 0px,#de0000 8px,#c70000 16px,#ae0000 24px,#980000 32px,#840000 40px,#820000 48px,#880000 56px,#930000 64px,#a70000 72px,#b20000 80px,#c60000 88px,#d50000 96px,#ec0000 104px,#ff0300 112px,#f90000 120px,#da0000 128px,#be0000 136px,#980000 144px,#850000 152px,#6e0000 160px,#790000 168px)"></i>
<i style="top:13px;height:1px;background:linear-gradient(90deg,#f20000 0px,#de0000 8px,#c70000 16px,#ae0000 24px,#970000 32px,#810000 40px,#6d0000 48px,#5f0000 56px,#620000 64px,#770000 72px,#840000 80px,#9f0000 88px,#ab0000 96px,#c80000 104px,#de0000 112px,#f60000 120px,#d30000 128px,#be0000 136px,#980000 144px,#850000 152px,#6f0000 160px,#790000 168px)"></i>
<i style="top:14px;height:1px;background:linear-gradient(90deg,#f20000 0px,#de0000 8px,#c70000 16px,#ae0000 24px,#970000 32px,#810000 40px,#6c0000 48px,#590000 56px,#4b0000 64px,#380000 72px,#2d0000 80px,#650000 88px,#160000 96px,#800000 104px,#b30000 112px,#cf0000 120px,#ce0000 128px,#be0000 136px,#980000 144px,#7b0000 152px,#6f0000 160px,#790000 168px)"></i>
<i style="top:15px;height:1px;background:linear-gradient(90deg,#f20000 0px,#de0000 8px,#c70000 16px,#ae0000 24px,#970000 32px,#810000 40px,#6b0000 48px,#580000 56px,#440000 64px,#320000 72px,#230000 80px,#1e0000 88px,#220000 96px,#110000 104px,#320000 112px,#870000 120px,#b60000 128px,#b70000 136px,#980000 144px,#7b0000 152px,#6f0000 160px,#790000 168px)"></i>
<i style="top:16px;height:1px;background:linear-gradient(90deg,#f20000 0px,#de0000 8px,#c40000 16px,#ae0000 24px,#970000 32px,#810000 40px,#6b0000 48px,#580000 56px,#440000 64px,#320000 72px,#230000 80px,#0f0000 88px,#240000 96px,#120000 104px,#230000 112px,#3a0000 120px,#470000 128px,#8f0000 136px,#8d0000 144px,#6f0000 152px,#6f0000 160px,#790000 168px)"></i>
<i style="top:17px;height:1px;background:linear-gradient(90deg,#f10000 0px,#dc0000 8px,#c40000 16px,#ae0000 24px,#970000 32px,#810000 40px,#690000 48px,#580000 56px,#440000 64px,#320000 72px,#240000 80px,#0f0000 88px,#240000 96px,#120000 104px,#250000 112px,#3c0000 120px,#380000 128px,#550000 136px,#5f0000 144px,#6b0000 152px,#6f0000 160px,#790000 168px)"></i>
<i style="top:18px;height:1px;background:linear-gradient(90deg,#f10000 0px,#dc0000 8px,#c40000 16px,#ae0000 24px,#970000 32px,#810000 40px,#690000 48px,#580000 56px,#430000 64px,#320000 72px,#240000 80px,#0f0000 88px,#2c0000 96px,#120000 104px,#250000 112px,#3c0000 120px,#3d0000 128px,#450000 136px,#530000 144px,#610000 152px,#6f0000 160px,#790000 168px)"></i>
<i style="top:19px;height:1px;background:linear-gradient(90deg,#f10000 0px,#dc0000 8px,#c20000 16px,#ad0000 24px,#970000 32px,#7f0000 40px,#690000 48px,#580000 56px,#430000 64px,#320000 72px,#250000 80px,#0f0000 88px,#2c0000 96px,#120000 104px,#250000 112px,#3c0000 120px,#3e0000 128px,#450000 136px,#530000 144px,#610000 152px,#6f0000 160px,#790000 168px)"></i>
<i style="top:20px;height:1px;background:linear-gradient(90deg,#f10000 0px,#dc0000 8px,#c20000 16px,#ad0000 24px,#970000 32px,#7f0000 40px,#690000 48px,#580000 56px,#410000 64px,#320000 72px,#240000 80px,#0f0000 88px,#2c0000 96px,#120000 104px,#250000 112px,#3b0000 120px,#420000 128px,#450000 136px,#530000 144px,#610000 152px,#6f0000 160px,#790000 168px)"></i>
</div>
<svg width="602" height="487"><defs><linearGradient id="cb0" x1="0" y1="1" x2="0" y2="0"><stop offset="0.000" stop-color="#3e26a8"/><stop offset="0.016" stop-color="#402ab4"/><stop offset="0.032" stop-color="#422ec0"/><stop offset="0.048" stop-color="#4432cb"/><stop offset="0.063" stop-color="#4537d5"/><stop offset="0.079" stop-color="#463cde"/><stop offset="0.095" stop-color="#4741e5"/><stop offset="0.111" stop-color="#4747eb"/><stop offset="0.127" stop-color="#484df0"/><stop offset="0.143" stop-color="#4852f4"/><stop offset="0.159" stop-color="#4758f8"/><stop offset="0.175" stop-color="#465efb"/><stop offset="0.190" stop-color="#4563fd"/><stop offset="0.206" stop-color="#4269fe"/><stop offset="0.222" stop-color="#3e6fff"/><stop offset="0.238" stop-color="#3875fe"/><stop offset="0.254" stop-color="#327cfc"/><stop offset="0.270" stop-color="#2f81fa"/><stop offset="0.286" stop-color="#2e87f7"/><stop offset="0.302" stop-color="#2d8cf3"/><stop offset="0.317" stop-color="#2b91ef"/><stop offset="0.333" stop-color="#2797eb"/><stop offset="0.349" stop-color="#259be8"/><stop offset="0.365" stop-color="#23a0e5"/><stop offset="0.381" stop-color="#20a5e3"/><stop offset="0.397" stop-color="#1ca9df"/><stop offset="0.413" stop-color="#18addb"/><stop offset="0.429" stop-color="#12b1d6"/><stop offset="0.444" stop-color="#08b5d0"/><stop offset="0.460" stop-color="#01b8ca"/><stop offset="0.476" stop-color="#02bac3"/><stop offset="0.492" stop-color="#0bbdbd"/><stop offset="0.508" stop-color="#19bfb6"/><stop offset="0.524" stop-color="#24c1ae"/><stop offset="0.540" stop-color="#2cc4a7"/><stop offset="0.556" stop-color="#31c69f"/><stop offset="0.571" stop-color="#37c897"/><stop offset="0.587" stop-color="#3fca8e"/><stop offset="0.603" stop-color="#4acb84"/><stop offset="0.619" stop-color="#57cc7a"/><stop offset="0.635" stop-color="#64cd6f"/><stop offset="0.651" stop-color="#72cd64"/><stop offset="0.667" stop-color="#81cc59"/><stop offset="0.683" stop-color="#8fcb4e"/><stop offset="0.698" stop-color="#9dc943"/><stop offset="0.714" stop-color="#abc739"/><stop offset="0.730" stop-color="#b9c431"/><stop offset="0.746" stop-color="#c5c22a"/><stop offset="0.762" stop-color="#d1bf27"/><stop offset="0.778" stop-color="#dcbd29"/><stop offset="0.794" stop-color="#e6bb2d"/><stop offset="0.810" stop-color="#f0ba36"/><stop offset="0.825" stop-color="#f8ba3d"/><stop offset="0.841" stop-color="#febe3c"/><stop offset="0.857" stop-color="#fec338"/><stop offset="0.873" stop-color="#fec934"/><stop offset="0.889" stop-color="#fccf30"/><stop offset="0.905" stop-color="#fad62d"/><stop offset="0.921" stop-color="#f7dc2a"/><stop offset="0.937" stop-color="#f5e327"/><stop offset="0.952" stop-color="#f5e924"/><stop offset="0.968" stop-color="#f6ef20"/><stop offset="0.984" stop-color="#f7f51b"/><stop offset="1.000" stop-color="#f9fb15"/></linearGradient><linearGradient id="cb1" x1="0" y1="1" x2="0" y2="0"><stop offset="0.000" stop-color="#3e26a8"/><stop offset="0.016" stop-color="#402ab4"/><stop offset="0.032" stop-color="#422ec0"/><stop offset="0.048" stop-color="#4432cb"/><stop offset="0.063" stop-color="#4537d5"/><stop offset="0.079" stop-color="#463cde"/><stop offset="0.095" stop-color="#4741e5"/><stop offset="0.111" stop-color="#4747eb"/><stop offset="0.127" stop-color="#484df0"/><stop offset="0.143" stop-color="#4852f4"/><stop offset="0.159" stop-color="#4758f8"/><stop offset="0.175" stop-color="#465efb"/><stop offset="0.190" stop-color="#4563fd"/><stop offset="0.206" stop-color="#4269fe"/><stop offset="0.222" stop-color="#3e6fff"/><stop offset="0.238" stop-color="#3875fe"/><stop offset="0.254" stop-color="#327cfc"/><stop offset="0.270" stop-color="#2f81fa"/><stop offset="0.286" stop-color="#2e87f7"/><stop offset="0.302" stop-color="#2d8cf3"/><stop offset="0.317" stop-color="#2b91ef"/><stop offset="0.333" stop-color="#2797eb"/><stop offset="0.349" stop-color="#259be8"/><stop offset="0.365" stop-color="#23a0e5"/><stop offset="0.381" stop-color="#20a5e3"/><stop offset="0.397" stop-color="#1ca9df"/><stop offset="0.413" stop-color="#18addb"/><stop offset="0.429" stop-color="#12b1d6"/><stop offset="0.444" stop-color="#08b5d0"/><stop offset="0.460" stop-color="#01b8ca"/><stop offset="0.476" stop-color="#02bac3"/><stop offset="0.492" stop-color="#0bbdbd"/><stop offset="0.508" stop-color="#19bfb6"/><stop offset="0.524" stop-color="#24c1ae"/><stop offset="0.540" stop-color="#2cc4a7"/><stop offset="0.556" stop-color="#31c69f"/><stop offset="0.571" stop-color="#37c897"/><stop offset="0.587" stop-color="#3fca8e"/><stop offset="0.603" stop-color="#4acb84"/><stop offset="0.619" stop-color="#57cc7a"/><stop offset="0.635" stop-color="#64cd6f"/><stop offset="0.651" stop-color="#72cd64"/><stop offset="0.667" stop-color="#81cc59"/><stop offset="0.683" stop-color="#8fcb4e"/><stop offset="0.698" stop-color="#9dc943"/><stop offset="0.714" stop-color="#abc739"/><stop offset="0.730" stop-color="#b9c431"/><stop offset="0.746" stop-color="#c5c22a"/><stop offset="0.762" stop-color="#d1bf27"/><stop offset="0.778" stop-color="#dcbd29"/><stop offset="0.794" stop-color="#e6bb2d"/><stop offset="0.810" stop-color="#f0ba36"/><stop offset="0.825" stop-color="#f8ba3d"/><stop offset="0.841" stop-color="#febe3c"/><stop offset="0.857" stop-color="#fec338"/><stop offset="0.873" stop-color="#fec934"/><stop offset="0.889" stop-color="#fccf30"/><stop offset="0.905" stop-color="#fad62d"/><stop offset="0.921" stop-color="#f7dc2a"/><stop offset="0.937" stop-color="#f5e327"/><stop offset="0.952" stop-color="#f5e924"/><stop offset="0.968" stop-color="#f6ef20"/><stop offset="0.984" stop-color="#f7f51b"/><stop offset="1.000" stop-color="#f9fb15"/></linearGradient></defs>
<path d="M193.6 4.2 200.8 9.7M217.3 21.9 236.8 35.9M151.0 4.2 167.6 19.8M178.9 30.7 195.7 47.2 210.2 62.2 223.7 77.0 236.8 92.2M106.1 4.2 115.0 14.7M128.6 30.7 138.0 42.2 146.3 52.7 154.1 63.0 161.3 73.0 168.2 83.0 174.8 93.2 181.7 104.2 189.8 117.8M200.2 135.4 207.3 146.9 213.6 156.7 219.8 165.4 225.7 173.2M62.4 4.2 69.8 15.2M78.7 28.2 96.5 54.5 109.9 75.0 122.6 95.5 138.1 121.5M146.0 134.9 152.9 146.4 159.1 156.2 164.8 165.0 170.5 173.2M42.3 33.8 75.7 89.7 107.4 143.4M118.1 160.9 126.0 173.2M42.3 89.2 51.1 104.7M55.2 112.0 76.8 149.6 84.3 162.4 90.8 173.2M42.3 135.9 46.0 142.8M56.0 160.7 63.0 173.2" fill="none" stroke="#fff" stroke-width="1"/>
<text x="53.3" y="111.8" transform="rotate(60.4 53.3 108.2)" class="cl">1</text>
<text x="51.3" y="155.2" transform="rotate(61.1 51.3 151.6)" class="cl">1.05</text>
<text x="112.4" y="156.1" transform="rotate(58.5 112.4 152.5)" class="cl">0.95</text>
<text x="141.3" y="132.2" transform="rotate(59.5 141.3 128.6)" class="cl">0.9</text>
<text x="194.5" y="130.6" transform="rotate(59.5 194.5 127.0)" class="cl">0.85</text>
<text x="74.4" y="25.2" transform="rotate(55.7 74.4 21.6)" class="cl">0.9</text>
<text x="121.7" y="26.4" transform="rotate(49.8 121.7 22.8)" class="cl">0.85</text>
<text x="173.2" y="28.9" transform="rotate(43.7 173.2 25.3)" class="cl">0.8</text>
<text x="208.9" y="19.7" transform="rotate(36.8 208.9 16.1)" class="cl">0.75</text>
<rect x="42.3" y="4.2" width="194.5" height="169.1" fill="none" stroke="#262626" stroke-width="0.8"/>
<text x="74.9" y="189.6" class="tk" text-anchor="middle">5</text>
<text x="127.5" y="189.6" class="tk" text-anchor="middle">10</text>
<text x="180.0" y="189.6" class="tk" text-anchor="middle">15</text>
<text x="232.6" y="189.6" class="tk" text-anchor="middle">20</text>
<text x="38.0" y="177.6" class="tk" text-anchor="end">10</text>
<text x="38.0" y="135.3" class="tk" text-anchor="end">20</text>
<text x="38.0" y="93.1" class="tk" text-anchor="end">30</text>
<text x="38.0" y="50.8" class="tk" text-anchor="end">40</text>
<text x="38.0" y="8.6" class="tk" text-anchor="end">50</text>
<path d="M74.9 173.3v-2M74.9 4.2v2M127.5 173.3v-2M127.5 4.2v2M180.0 173.3v-2M180.0 4.2v2M232.6 173.3v-2M232.6 4.2v2M42.3 173.3h2M236.8 173.3h-2M42.3 131.0h2M236.8 131.0h-2M42.3 88.8h2M236.8 88.8h-2M42.3 46.5h2M236.8 46.5h-2M42.3 4.3h2M236.8 4.3h-2" stroke="#262626" stroke-width="0.8" fill="none"/>
<rect x="255.2" y="2.2" width="13.9" height="169.3" fill="url(#cb0)" stroke="#555" stroke-width="0.7"/>
<text x="273.2" y="8.2" class="tk">1.1</text>
<text x="273.2" y="50.5" class="tk">1</text>
<text x="273.2" y="92.8" class="tk">0.9</text>
<text x="273.2" y="135.1" class="tk">0.8</text>
<text x="273.2" y="177.4" class="tk">0.7</text>
<path d="M269.1 2.2h-2M269.1 44.5h-2M269.1 86.8h-2M269.1 129.1h-2M269.1 171.4h-2" stroke="#262626" stroke-width="0.8" fill="none"/>
<path d="M507.0 4.6 513.2 9.2M529.7 21.3 548.0 34.2M462.2 4.6 478.3 19.9M489.4 30.8 497.9 39.4 505.9 47.6 513.3 55.6 520.5 63.6 527.5 71.6 534.4 79.8 541.1 88.1 548.0 96.8M415.6 4.6 423.9 14.3M437.0 29.9 445.4 40.4 453.1 50.4 460.5 60.4 467.8 70.6 474.7 80.8 481.7 91.6 489.1 103.3 498.0 118.1M508.6 135.6 515.6 146.8 521.7 156.3 527.5 164.9 533.1 172.8M369.2 4.6 376.4 15.1M385.3 28.1 400.3 50.6 413.9 71.8 427.1 93.3 444.4 122.4M452.4 135.8 464.9 156.3 475.6 172.8M354.2 47.0 367.3 69.1M377.7 86.8 413.7 148.2 428.4 172.8M354.2 104.7 361.0 116.6M364.9 123.6 392.6 172.8M354.2 151.7 365.4 172.8" fill="none" stroke="#fff" stroke-width="1"/>
<text x="362.5" y="124.0" transform="rotate(60.5 362.5 120.4)" class="cl">1</text>
<text x="372.2" y="81.6" transform="rotate(59.5 372.2 78.0)" class="cl">0.95</text>
<text x="448.3" y="132.8" transform="rotate(59.2 448.3 129.2)" class="cl">0.9</text>
<text x="503.0" y="130.6" transform="rotate(58.9 503.0 127.0)" class="cl">0.85</text>
<text x="380.6" y="25.5" transform="rotate(55.8 380.6 21.9)" class="cl">0.9</text>
<text x="429.6" y="26.4" transform="rotate(50.3 429.6 22.8)" class="cl">0.85</text>
<text x="484.3" y="28.6" transform="rotate(44.2 484.3 25.0)" class="cl">0.8</text>
<text x="521.4" y="18.9" transform="rotate(36.3 521.4 15.3)" class="cl">0.75</text>
<rect x="354.2" y="4.6" width="193.8" height="168.4" fill="none" stroke="#262626" stroke-width="0.8"/>
<text x="386.8" y="189.6" class="tk" text-anchor="middle">5</text>
<text x="439.4" y="189.6" class="tk" text-anchor="middle">10</text>
<text x="491.9" y="189.6" class="tk" text-anchor="middle">15</text>
<text x="544.5" y="189.6" class="tk" text-anchor="middle">20</text>
<text x="349.9" y="177.6" class="tk" text-anchor="end">10</text>
<text x="349.9" y="135.3" class="tk" text-anchor="end">20</text>
<text x="349.9" y="93.1" class="tk" text-anchor="end">30</text>
<text x="349.9" y="50.8" class="tk" text-anchor="end">40</text>
<text x="349.9" y="8.6" class="tk" text-anchor="end">50</text>
<path d="M386.8 173.0v-2M386.8 4.6v2M439.4 173.0v-2M439.4 4.6v2M491.9 173.0v-2M491.9 4.6v2M544.5 173.0v-2M544.5 4.6v2M354.2 173.3h2M548.0 173.3h-2M354.2 131.0h2M548.0 131.0h-2M354.2 88.8h2M548.0 88.8h-2M354.2 46.5h2M548.0 46.5h-2M354.2 4.3h2M548.0 4.3h-2" stroke="#262626" stroke-width="0.8" fill="none"/>
<rect x="564.9" y="4.7" width="13.9" height="169.0" fill="url(#cb1)" stroke="#555" stroke-width="0.7"/>
<text x="583.2" y="23.5" class="tk">1.05</text>
<text x="583.2" y="45.9" class="tk">1</text>
<text x="583.2" y="68.3" class="tk">0.95</text>
<text x="583.2" y="90.7" class="tk">0.9</text>
<text x="583.2" y="113.1" class="tk">0.85</text>
<text x="583.2" y="135.5" class="tk">0.8</text>
<text x="583.2" y="157.9" class="tk">0.75</text>
<path d="M578.8 17.5h-2M578.8 39.9h-2M578.8 62.3h-2M578.8 84.7h-2M578.8 107.1h-2M578.8 129.5h-2M578.8 151.9h-2" stroke="#262626" stroke-width="0.8" fill="none"/>
<text x="107.8" y="209.3" class="al">A<tspan font-size="10" dy="5.5" dx="0.6">b</tspan><tspan dy="-5.5"> (g/cm</tspan><tspan font-size="10.5" dy="-5.5" dx="0.5">2</tspan><tspan dy="5.5" dx="0.6">)</tspan></text>
<text x="419.2" y="209.3" class="al">A<tspan font-size="10" dy="5.5" dx="0.6">b</tspan><tspan dy="-5.5"> (g/cm</tspan><tspan font-size="10.5" dy="-5.5" dx="0.5">2</tspan><tspan dy="5.5" dx="0.6">)</tspan></text>
<g transform="translate(14.6 123.5) rotate(-90)"><text x="0.0" y="0.0" class="al">A<tspan font-size="10" dy="5.5" dx="0.6">w</tspan><tspan dy="-5.5"> (g/cm</tspan><tspan font-size="10.5" dy="-5.5" dx="0.5">2</tspan><tspan dy="5.5" dx="0.6">)</tspan></text></g>
<g transform="translate(326.1 123.5) rotate(-90)"><text x="0.0" y="0.0" class="al">A<tspan font-size="10" dy="5.5" dx="0.6">w</tspan><tspan dy="-5.5"> (g/cm</tspan><tspan font-size="10.5" dy="-5.5" dx="0.5">2</tspan><tspan dy="5.5" dx="0.6">)</tspan></text></g>
<text x="137.1" y="240.1" class="cap" text-anchor="middle" textLength="21.6" lengthAdjust="spacingAndGlyphs">(a)</text>
<text x="455.9" y="240" class="cap" text-anchor="middle" textLength="21.6" lengthAdjust="spacingAndGlyphs">(b)</text>
<text x="40.2" y="419.6" class="t3" text-anchor="end">0.4</text>
<text x="40.2" y="377.9" class="t3" text-anchor="end">0.5</text>
<text x="40.2" y="336.2" class="t3" text-anchor="end">0.6</text>
<text x="40.2" y="294.5" class="t3" text-anchor="end">0.7</text>
<text x="44.3" y="434.9" class="t3" text-anchor="middle">0</text>
<text x="89.5" y="441.5" class="t3" text-anchor="middle">10</text>
<text x="137.2" y="446.5" class="t3" text-anchor="middle">20</text>
<text x="168.5" y="444.6" class="t3" text-anchor="middle">50</text>
<text x="186.2" y="443.3" class="t3" text-anchor="middle">40</text>
<text x="204.5" y="442.0" class="t3" text-anchor="middle">30</text>
<text x="222.2" y="440.6" class="t3" text-anchor="middle">20</text>
<text x="240.0" y="438.4" class="t3" text-anchor="middle">10</text>
<text x="347.8" y="394.7" class="t3" text-anchor="end">5</text>
<text x="347.8" y="353.3" class="t3" text-anchor="end">10</text>
<text x="347.8" y="311.9" class="t3" text-anchor="end">15</text>
<text x="360.2" y="421.4" class="t3" text-anchor="middle">50</text>
<text x="378.1" y="426.7" class="t3" text-anchor="middle">40</text>
<text x="395.8" y="431.8" class="t3" text-anchor="middle">30</text>
<text x="413.7" y="437.0" class="t3" text-anchor="middle">20</text>
<text x="431.2" y="442.3" class="t3" text-anchor="middle">10</text>
<text x="470.7" y="448.2" class="t3" text-anchor="middle">0</text>
<text x="525.3" y="432.3" class="t3" text-anchor="middle">10</text>
<text x="576.3" y="416.1" class="t3" text-anchor="middle">20</text>
<text x="161" y="289.2" class="an">Proposed DL-FPD</text>
<path d="M204.3 295.6L193.8 305.7" stroke="#000" stroke-width="2"/><path d="M187.5 311.7L191.3 301.2L193.8 305.7L198.1 308.3Z" fill="#000"/>
<text x="225.3" y="364.6" class="an">Existing</text>
<text x="225.3" y="379.9" class="an">DL-FPD</text>
<path d="M222.2 373.9L211.0 384.0" stroke="#000" stroke-width="2"/><path d="M204.6 389.9L208.7 379.5L211.0 384.0L215.3 386.8Z" fill="#000"/>
<text x="466.8" y="321" class="an">Proposed DL-FPD</text>
<path d="M509.0 327.4L497.7 337.9" stroke="#000" stroke-width="2"/><path d="M491.4 343.9L495.3 333.5L497.7 337.9L502.0 340.6Z" fill="#000"/>
<text x="388.5" y="407.9" class="an">Existing DL-FPD</text>
<path d="M422.9 397.9L434.4 387.5" stroke="#000" stroke-width="2"/><path d="M440.8 381.6L436.7 392.0L434.4 387.5L430.1 384.7Z" fill="#000"/>
<text transform="translate(20.8 349) rotate(-90)" class="yl3" text-anchor="middle" style="font-size:12.5px">Absorption efficiency</text>
<text transform="translate(331 352.9) rotate(-90)" class="yl3" text-anchor="middle" style="font-size:12.8px">Energy gap (keV)</text>
<text x="37.6" y="457.8" class="al3">A<tspan font-size="9" dy="5" dx="0.6">b</tspan><tspan dy="-5"> (g/cm</tspan><tspan font-size="9.5" dy="-5" dx="0.5">2</tspan><tspan dy="5" dx="0.6">)</tspan></text>
<text x="201.2" y="457.4" class="al3">A<tspan font-size="9" dy="5" dx="0.6">w</tspan><tspan dy="-5"> (g/cm</tspan><tspan font-size="9.5" dy="-5" dx="0.5">2</tspan><tspan dy="5" dx="0.6">)</tspan></text>
<text x="348.2" y="458.3" class="al3">A<tspan font-size="9" dy="5" dx="0.6">w</tspan><tspan dy="-5"> (g/cm</tspan><tspan font-size="9.5" dy="-5" dx="0.5">2</tspan><tspan dy="5" dx="0.6">)</tspan></text>
<text x="516.2" y="458.9" class="al3">A<tspan font-size="9" dy="5" dx="0.6">b</tspan><tspan dy="-5"> (g/cm</tspan><tspan font-size="9.5" dy="-5" dx="0.5">2</tspan><tspan dy="5" dx="0.6">)</tspan></text>
<text x="136.8" y="483.6" class="cap" text-anchor="middle" textLength="21.6" lengthAdjust="spacingAndGlyphs">(c)</text>
<text x="455.9" y="483.2" class="cap" text-anchor="middle" textLength="21.6" lengthAdjust="spacingAndGlyphs">(d)</text>
</svg></body></html>
